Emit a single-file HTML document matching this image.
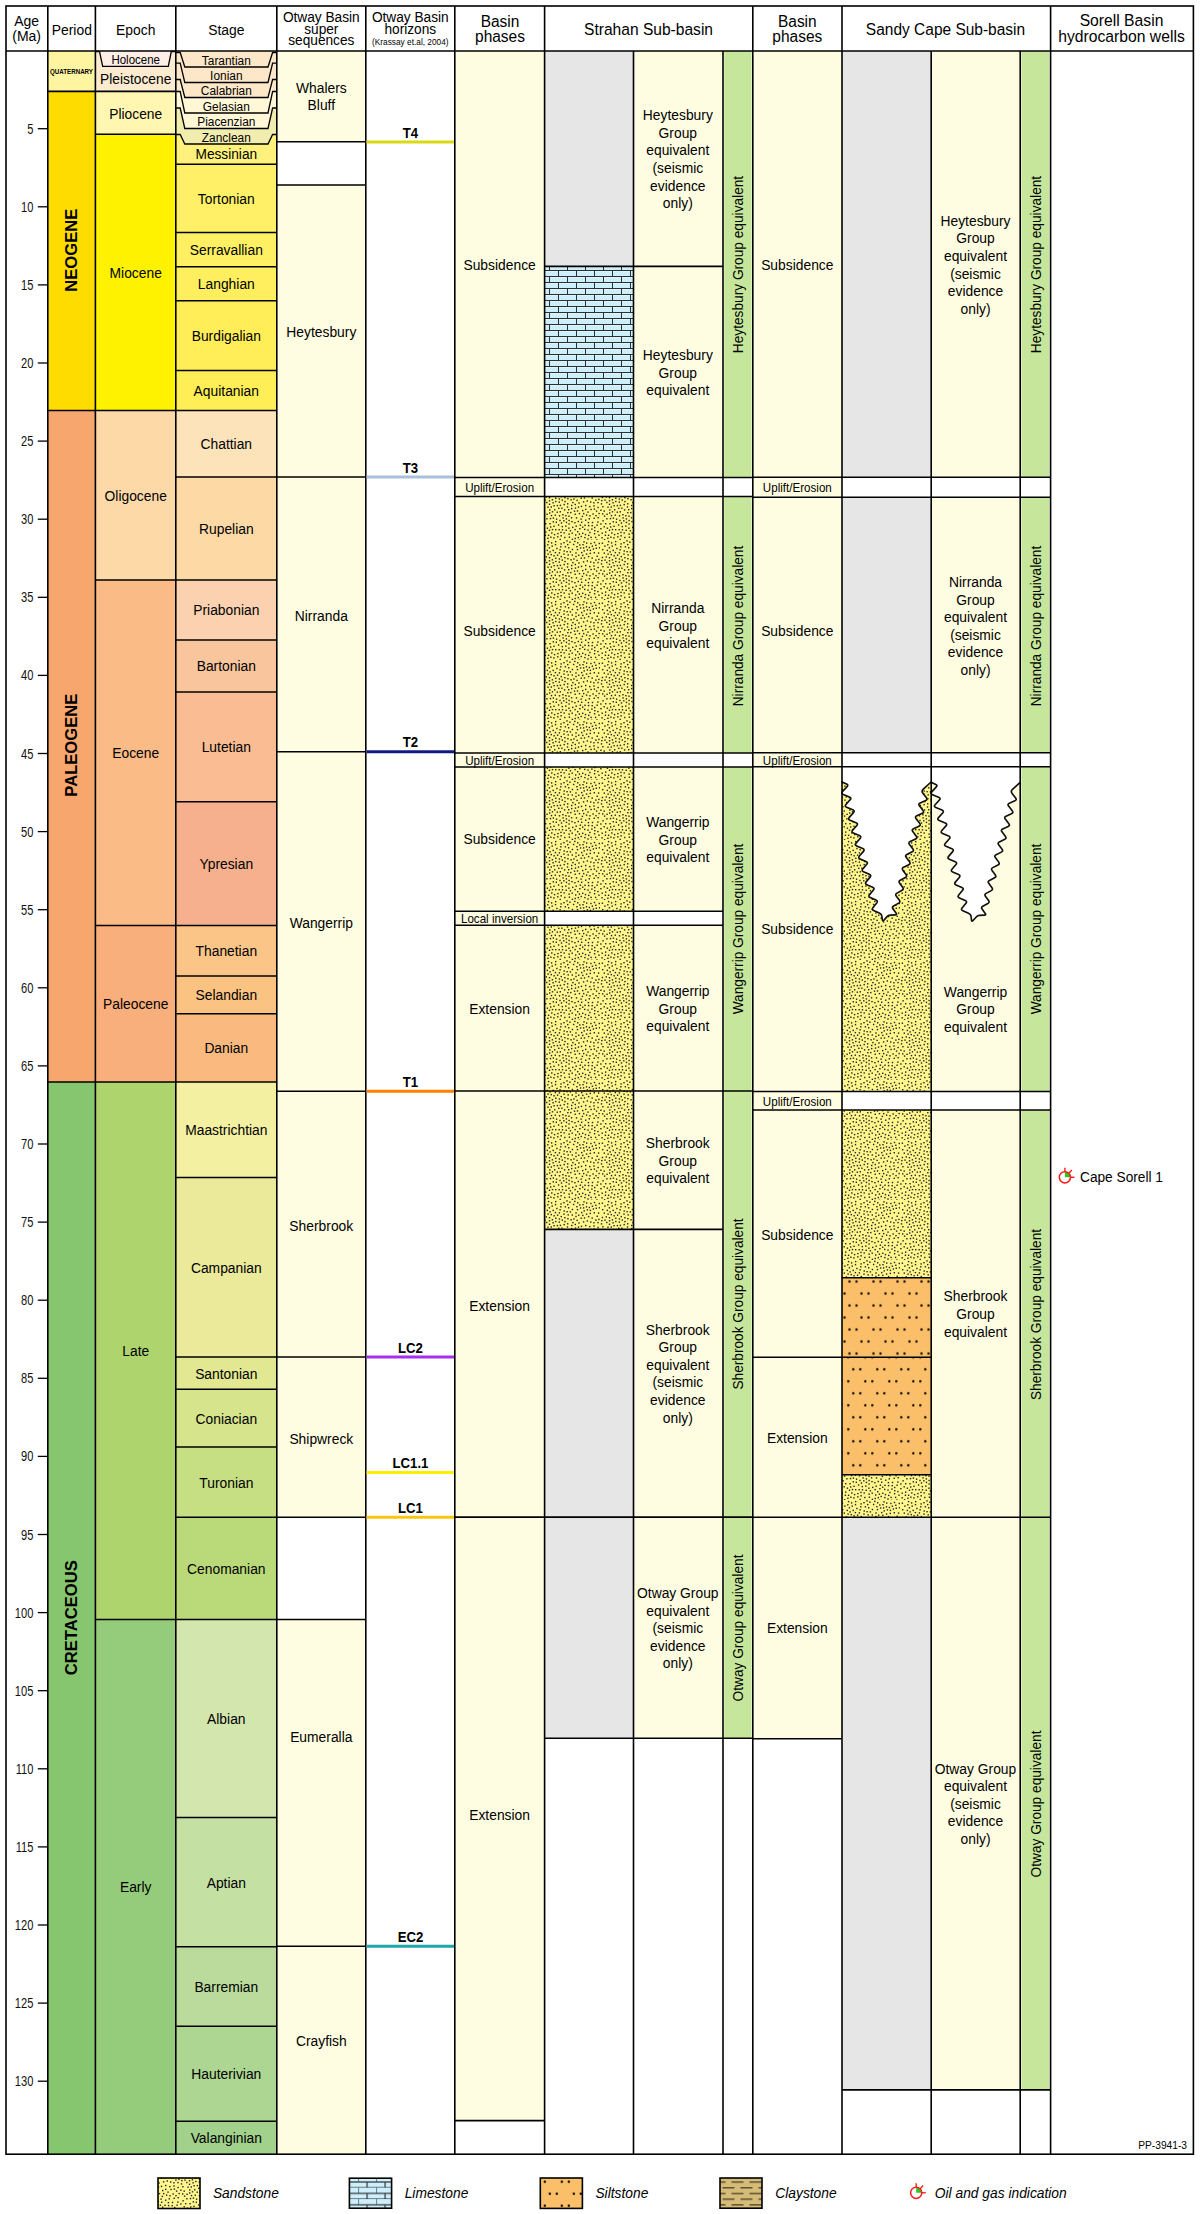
<!DOCTYPE html><html><head><meta charset="utf-8"><title>Stratigraphic chart</title><style>html,body{margin:0;padding:0;background:#fff;}svg{display:block;font-family:"Liberation Sans",sans-serif;}</style></head><body><svg width="1200" height="2214" viewBox="0 0 1200 2214" font-family='"Liberation Sans", sans-serif'><defs><pattern id="sand" patternUnits="userSpaceOnUse" x="0" y="0" width="60" height="60"><rect width="60" height="60" fill="#FFF68C"/><rect x="19.4" y="9.1" width="1.4" height="1.4" fill="#222"/><rect x="39.1" y="4.3" width="1.4" height="1.4" fill="#222"/><rect x="32.2" y="21.9" width="1.4" height="1.4" fill="#222"/><rect x="3.5" y="30.4" width="1.4" height="1.4" fill="#222"/><rect x="2.2" y="26.0" width="1.4" height="1.4" fill="#222"/><rect x="4.2" y="5.4" width="1.4" height="1.4" fill="#222"/><rect x="25.5" y="49.6" width="1.4" height="1.4" fill="#222"/><rect x="7.4" y="13.4" width="1.4" height="1.4" fill="#222"/><rect x="37.6" y="56.9" width="1.4" height="1.4" fill="#222"/><rect x="34.6" y="23.8" width="1.4" height="1.4" fill="#222"/><rect x="58.6" y="2.8" width="1.4" height="1.4" fill="#222"/><rect x="51.5" y="17.4" width="1.4" height="1.4" fill="#222"/><rect x="8.7" y="7.1" width="1.4" height="1.4" fill="#222"/><rect x="18.5" y="49.0" width="1.4" height="1.4" fill="#222"/><rect x="10.8" y="34.9" width="1.4" height="1.4" fill="#222"/><rect x="38.3" y="22.3" width="1.4" height="1.4" fill="#222"/><rect x="32.9" y="3.8" width="1.4" height="1.4" fill="#222"/><rect x="3.6" y="12.4" width="1.4" height="1.4" fill="#222"/><rect x="40.8" y="25.7" width="1.4" height="1.4" fill="#222"/><rect x="18.8" y="35.1" width="1.4" height="1.4" fill="#222"/><rect x="27.2" y="18.0" width="1.4" height="1.4" fill="#222"/><rect x="47.7" y="41.9" width="1.4" height="1.4" fill="#222"/><rect x="14.6" y="34.5" width="1.4" height="1.4" fill="#222"/><rect x="31.5" y="52.5" width="1.4" height="1.4" fill="#222"/><rect x="43.8" y="17.3" width="1.4" height="1.4" fill="#222"/><rect x="58.8" y="7.1" width="1.4" height="1.4" fill="#222"/><rect x="25.1" y="45.4" width="1.4" height="1.4" fill="#222"/><rect x="9.1" y="29.3" width="1.4" height="1.4" fill="#222"/><rect x="2.4" y="40.1" width="1.4" height="1.4" fill="#222"/><rect x="45.9" y="34.4" width="1.4" height="1.4" fill="#222"/><rect x="41.7" y="35.7" width="1.4" height="1.4" fill="#222"/><rect x="34.8" y="27.4" width="1.4" height="1.4" fill="#222"/><rect x="50.4" y="56.7" width="1.4" height="1.4" fill="#222"/><rect x="28.4" y="39.8" width="1.4" height="1.4" fill="#222"/><rect x="38.8" y="59.6" width="1.4" height="1.4" fill="#222"/><rect x="23.1" y="40.1" width="1.4" height="1.4" fill="#222"/><rect x="3.5" y="46.1" width="1.4" height="1.4" fill="#222"/><rect x="23.5" y="52.3" width="1.4" height="1.4" fill="#222"/><rect x="49.2" y="51.8" width="1.4" height="1.4" fill="#222"/><rect x="16.7" y="24.9" width="1.4" height="1.4" fill="#222"/><rect x="10.6" y="13.9" width="1.4" height="1.4" fill="#222"/><rect x="14.0" y="29.1" width="1.4" height="1.4" fill="#222"/><rect x="35.3" y="15.8" width="1.4" height="1.4" fill="#222"/><rect x="22.2" y="34.0" width="1.4" height="1.4" fill="#222"/><rect x="57.2" y="41.4" width="1.4" height="1.4" fill="#222"/><rect x="30.9" y="37.1" width="1.4" height="1.4" fill="#222"/><rect x="54.0" y="46.8" width="1.4" height="1.4" fill="#222"/><rect x="23.5" y="23.9" width="1.4" height="1.4" fill="#222"/><rect x="6.2" y="38.1" width="1.4" height="1.4" fill="#222"/><rect x="12.5" y="9.7" width="1.4" height="1.4" fill="#222"/><rect x="20.4" y="3.2" width="1.4" height="1.4" fill="#222"/><rect x="6.1" y="21.8" width="1.4" height="1.4" fill="#222"/><rect x="1.5" y="52.5" width="1.4" height="1.4" fill="#222"/><rect x="36.8" y="8.9" width="1.4" height="1.4" fill="#222"/><rect x="15.1" y="20.8" width="1.4" height="1.4" fill="#222"/><rect x="50.9" y="59.6" width="1.4" height="1.4" fill="#222"/><rect x="28.0" y="29.0" width="1.4" height="1.4" fill="#222"/><rect x="20.6" y="15.9" width="1.4" height="1.4" fill="#222"/><rect x="49.7" y="9.7" width="1.4" height="1.4" fill="#222"/><rect x="1.4" y="57.1" width="1.4" height="1.4" fill="#222"/><rect x="31.7" y="8.8" width="1.4" height="1.4" fill="#222"/><rect x="31.7" y="58.7" width="1.4" height="1.4" fill="#222"/><rect x="51.8" y="41.8" width="1.4" height="1.4" fill="#222"/><rect x="10.0" y="46.3" width="1.4" height="1.4" fill="#222"/><rect x="32.0" y="46.7" width="1.4" height="1.4" fill="#222"/><rect x="51.2" y="48.4" width="1.4" height="1.4" fill="#222"/><rect x="1.7" y="16.8" width="1.4" height="1.4" fill="#222"/><rect x="15.6" y="41.6" width="1.4" height="1.4" fill="#222"/><rect x="57.4" y="26.8" width="1.4" height="1.4" fill="#222"/><rect x="56.2" y="59.3" width="1.4" height="1.4" fill="#222"/><rect x="57.3" y="21.9" width="1.4" height="1.4" fill="#222"/><rect x="50.4" y="28.8" width="1.4" height="1.4" fill="#222"/><rect x="39.2" y="48.0" width="1.4" height="1.4" fill="#222"/><rect x="45.0" y="28.7" width="1.4" height="1.4" fill="#222"/><rect x="24.1" y="56.8" width="1.4" height="1.4" fill="#222"/><rect x="43.5" y="10.2" width="1.4" height="1.4" fill="#222"/><rect x="8.8" y="49.6" width="1.4" height="1.4" fill="#222"/><rect x="7.9" y="0.9" width="1.4" height="1.4" fill="#222"/><rect x="49.6" y="12.7" width="1.4" height="1.4" fill="#222"/><rect x="15.1" y="17.6" width="1.4" height="1.4" fill="#222"/><rect x="7.9" y="54.6" width="1.4" height="1.4" fill="#222"/><rect x="21.2" y="27.5" width="1.4" height="1.4" fill="#222"/><rect x="35.0" y="54.3" width="1.4" height="1.4" fill="#222"/><rect x="30.1" y="31.9" width="1.4" height="1.4" fill="#222"/><rect x="26.4" y="11.0" width="1.4" height="1.4" fill="#222"/><rect x="0.2" y="48.0" width="1.4" height="1.4" fill="#222"/><rect x="19.6" y="31.1" width="1.4" height="1.4" fill="#222"/><rect x="6.4" y="33.6" width="1.4" height="1.4" fill="#222"/><rect x="36.8" y="30.3" width="1.4" height="1.4" fill="#222"/><rect x="27.1" y="32.0" width="1.4" height="1.4" fill="#222"/><rect x="28.7" y="56.5" width="1.4" height="1.4" fill="#222"/><rect x="42.0" y="52.6" width="1.4" height="1.4" fill="#222"/><rect x="56.5" y="15.6" width="1.4" height="1.4" fill="#222"/><rect x="7.3" y="26.5" width="1.4" height="1.4" fill="#222"/><rect x="9.3" y="43.0" width="1.4" height="1.4" fill="#222"/><rect x="13.2" y="57.2" width="1.4" height="1.4" fill="#222"/><rect x="23.9" y="29.2" width="1.4" height="1.4" fill="#222"/><rect x="11.7" y="19.1" width="1.4" height="1.4" fill="#222"/><rect x="43.3" y="1.2" width="1.4" height="1.4" fill="#222"/><rect x="1.1" y="19.9" width="1.4" height="1.4" fill="#222"/><rect x="3.9" y="59.1" width="1.4" height="1.4" fill="#222"/><rect x="47.3" y="58.3" width="1.4" height="1.4" fill="#222"/><rect x="16.2" y="7.8" width="1.4" height="1.4" fill="#222"/><rect x="34.2" y="42.0" width="1.4" height="1.4" fill="#222"/><rect x="5.0" y="51.4" width="1.4" height="1.4" fill="#222"/><rect x="31.6" y="14.3" width="1.4" height="1.4" fill="#222"/><rect x="6.6" y="9.7" width="1.4" height="1.4" fill="#222"/><rect x="18.7" y="18.3" width="1.4" height="1.4" fill="#222"/><rect x="15.0" y="0.9" width="1.4" height="1.4" fill="#222"/><rect x="49.1" y="25.9" width="1.4" height="1.4" fill="#222"/><rect x="29.7" y="50.1" width="1.4" height="1.4" fill="#222"/><rect x="24.3" y="20.9" width="1.4" height="1.4" fill="#222"/><rect x="16.9" y="14.5" width="1.4" height="1.4" fill="#222"/><rect x="58.4" y="32.8" width="1.4" height="1.4" fill="#222"/><rect x="18.6" y="21.4" width="1.4" height="1.4" fill="#222"/><rect x="45.0" y="39.5" width="1.4" height="1.4" fill="#222"/><rect x="53.5" y="37.6" width="1.4" height="1.4" fill="#222"/><rect x="44.0" y="48.7" width="1.4" height="1.4" fill="#222"/><rect x="41.0" y="41.6" width="1.4" height="1.4" fill="#222"/><rect x="37.6" y="40.8" width="1.4" height="1.4" fill="#222"/><rect x="47.9" y="44.9" width="1.4" height="1.4" fill="#222"/><rect x="34.1" y="0.7" width="1.4" height="1.4" fill="#222"/><rect x="40.5" y="17.5" width="1.4" height="1.4" fill="#222"/><rect x="31.0" y="27.9" width="1.4" height="1.4" fill="#222"/><rect x="28.0" y="7.1" width="1.4" height="1.4" fill="#222"/><rect x="53.6" y="12.0" width="1.4" height="1.4" fill="#222"/><rect x="13.9" y="53.9" width="1.4" height="1.4" fill="#222"/><rect x="29.2" y="1.5" width="1.4" height="1.4" fill="#222"/><rect x="0.2" y="29.5" width="1.4" height="1.4" fill="#222"/><rect x="59.9" y="35.4" width="1.4" height="1.4" fill="#222"/><rect x="17.1" y="56.1" width="1.4" height="1.4" fill="#222"/><rect x="55.6" y="7.6" width="1.4" height="1.4" fill="#222"/><rect x="17.9" y="44.3" width="1.4" height="1.4" fill="#222"/><rect x="11.5" y="5.4" width="1.4" height="1.4" fill="#222"/><rect x="45.0" y="24.8" width="1.4" height="1.4" fill="#222"/><rect x="57.2" y="50.9" width="1.4" height="1.4" fill="#222"/><rect x="53.7" y="28.4" width="1.4" height="1.4" fill="#222"/><rect x="31.3" y="40.9" width="1.4" height="1.4" fill="#222"/><rect x="23.3" y="13.4" width="1.4" height="1.4" fill="#222"/><rect x="18.1" y="27.6" width="1.4" height="1.4" fill="#222"/><rect x="41.0" y="11.9" width="1.4" height="1.4" fill="#222"/><rect x="58.2" y="18.7" width="1.4" height="1.4" fill="#222"/><rect x="13.3" y="45.6" width="1.4" height="1.4" fill="#222"/><rect x="29.7" y="11.2" width="1.4" height="1.4" fill="#222"/><rect x="13.4" y="25.0" width="1.4" height="1.4" fill="#222"/><rect x="8.8" y="23.6" width="1.4" height="1.4" fill="#222"/><rect x="53.9" y="53.0" width="1.4" height="1.4" fill="#222"/><rect x="57.9" y="12.4" width="1.4" height="1.4" fill="#222"/><rect x="53.8" y="1.8" width="1.4" height="1.4" fill="#222"/><rect x="46.0" y="2.4" width="1.4" height="1.4" fill="#222"/><rect x="44.8" y="53.9" width="1.4" height="1.4" fill="#222"/><rect x="57.5" y="37.0" width="1.4" height="1.4" fill="#222"/><rect x="36.4" y="19.7" width="1.4" height="1.4" fill="#222"/><rect x="14.8" y="3.9" width="1.4" height="1.4" fill="#222"/><rect x="2.0" y="33.2" width="1.4" height="1.4" fill="#222"/><rect x="19.5" y="58.8" width="1.4" height="1.4" fill="#222"/><rect x="39.9" y="7.3" width="1.4" height="1.4" fill="#222"/><rect x="35.8" y="37.2" width="1.4" height="1.4" fill="#222"/><rect x="18.7" y="12.2" width="1.4" height="1.4" fill="#222"/><rect x="8.8" y="17.0" width="1.4" height="1.4" fill="#222"/><rect x="25.2" y="35.0" width="1.4" height="1.4" fill="#222"/><rect x="26.8" y="26.3" width="1.4" height="1.4" fill="#222"/><rect x="30.4" y="19.1" width="1.4" height="1.4" fill="#222"/><rect x="52.4" y="33.3" width="1.4" height="1.4" fill="#222"/><rect x="47.9" y="15.9" width="1.4" height="1.4" fill="#222"/><rect x="21.6" y="45.9" width="1.4" height="1.4" fill="#222"/><rect x="2.0" y="9.0" width="1.4" height="1.4" fill="#222"/><rect x="35.3" y="12.3" width="1.4" height="1.4" fill="#222"/><rect x="47.3" y="31.4" width="1.4" height="1.4" fill="#222"/><rect x="15.9" y="38.5" width="1.4" height="1.4" fill="#222"/><rect x="12.7" y="37.4" width="1.4" height="1.4" fill="#222"/><rect x="4.7" y="54.6" width="1.4" height="1.4" fill="#222"/><rect x="1.7" y="2.5" width="1.4" height="1.4" fill="#222"/><rect x="3.9" y="35.4" width="1.4" height="1.4" fill="#222"/><rect x="21.8" y="49.1" width="1.4" height="1.4" fill="#222"/><rect x="54.9" y="56.7" width="1.4" height="1.4" fill="#222"/><rect x="20.8" y="42.3" width="1.4" height="1.4" fill="#222"/><rect x="51.7" y="5.5" width="1.4" height="1.4" fill="#222"/><rect x="42.0" y="29.9" width="1.4" height="1.4" fill="#222"/><rect x="39.7" y="44.5" width="1.4" height="1.4" fill="#222"/><rect x="23.3" y="2.0" width="1.4" height="1.4" fill="#222"/><rect x="40.5" y="55.8" width="1.4" height="1.4" fill="#222"/><rect x="12.6" y="41.1" width="1.4" height="1.4" fill="#222"/><rect x="48.6" y="38.1" width="1.4" height="1.4" fill="#222"/><rect x="50.0" y="21.3" width="1.4" height="1.4" fill="#222"/><rect x="0.2" y="43.3" width="1.4" height="1.4" fill="#222"/><rect x="25.7" y="38.2" width="1.4" height="1.4" fill="#222"/><rect x="20.3" y="51.7" width="1.4" height="1.4" fill="#222"/><rect x="45.8" y="6.1" width="1.4" height="1.4" fill="#222"/><rect x="10.9" y="2.2" width="1.4" height="1.4" fill="#222"/><rect x="0.8" y="23.2" width="1.4" height="1.4" fill="#222"/><rect x="24.7" y="6.1" width="1.4" height="1.4" fill="#222"/><rect x="7.2" y="57.6" width="1.4" height="1.4" fill="#222"/><rect x="50.2" y="2.8" width="1.4" height="1.4" fill="#222"/><rect x="35.5" y="45.5" width="1.4" height="1.4" fill="#222"/><rect x="15.0" y="49.0" width="1.4" height="1.4" fill="#222"/><rect x="46.6" y="20.3" width="1.4" height="1.4" fill="#222"/><rect x="37.0" y="51.0" width="1.4" height="1.4" fill="#222"/><rect x="44.3" y="44.6" width="1.4" height="1.4" fill="#222"/><rect x="55.2" y="19.4" width="1.4" height="1.4" fill="#222"/><rect x="53.3" y="25.3" width="1.4" height="1.4" fill="#222"/><rect x="42.9" y="21.2" width="1.4" height="1.4" fill="#222"/><rect x="27.0" y="23.1" width="1.4" height="1.4" fill="#222"/><rect x="5.6" y="16.2" width="1.4" height="1.4" fill="#222"/><rect x="19.3" y="39.8" width="1.4" height="1.4" fill="#222"/><rect x="6.7" y="47.5" width="1.4" height="1.4" fill="#222"/><rect x="5.0" y="43.0" width="1.4" height="1.4" fill="#222"/><rect x="58.3" y="54.5" width="1.4" height="1.4" fill="#222"/><rect x="23.5" y="10.3" width="1.4" height="1.4" fill="#222"/><rect x="44.2" y="56.9" width="1.4" height="1.4" fill="#222"/><rect x="36.2" y="6.0" width="1.4" height="1.4" fill="#222"/><rect x="55.3" y="35.0" width="1.4" height="1.4" fill="#222"/><rect x="13.4" y="15.1" width="1.4" height="1.4" fill="#222"/><rect x="20.4" y="55.1" width="1.4" height="1.4" fill="#222"/><rect x="38.8" y="32.9" width="1.4" height="1.4" fill="#222"/><rect x="28.4" y="43.3" width="1.4" height="1.4" fill="#222"/><rect x="28.4" y="53.4" width="1.4" height="1.4" fill="#222"/><rect x="10.2" y="56.5" width="1.4" height="1.4" fill="#222"/><rect x="27.5" y="14.2" width="1.4" height="1.4" fill="#222"/><rect x="56.4" y="44.5" width="1.4" height="1.4" fill="#222"/><rect x="11.1" y="52.3" width="1.4" height="1.4" fill="#222"/><rect x="24.2" y="17.0" width="1.4" height="1.4" fill="#222"/><rect x="9.8" y="37.9" width="1.4" height="1.4" fill="#222"/><rect x="33.8" y="30.5" width="1.4" height="1.4" fill="#222"/><rect x="4.3" y="19.4" width="1.4" height="1.4" fill="#222"/><rect x="47.3" y="49.4" width="1.4" height="1.4" fill="#222"/><rect x="10.6" y="26.3" width="1.4" height="1.4" fill="#222"/><rect x="45.9" y="13.4" width="1.4" height="1.4" fill="#222"/><rect x="7.1" y="4.1" width="1.4" height="1.4" fill="#222"/><rect x="38.0" y="14.5" width="1.4" height="1.4" fill="#222"/><rect x="52.7" y="8.3" width="1.4" height="1.4" fill="#222"/><rect x="14.7" y="11.9" width="1.4" height="1.4" fill="#222"/><rect x="53.2" y="22.1" width="1.4" height="1.4" fill="#222"/><rect x="34.5" y="33.6" width="1.4" height="1.4" fill="#222"/><rect x="20.1" y="6.1" width="1.4" height="1.4" fill="#222"/><rect x="26.3" y="0.2" width="1.4" height="1.4" fill="#222"/><rect x="11.8" y="31.1" width="1.4" height="1.4" fill="#222"/><rect x="34.4" y="48.9" width="1.4" height="1.4" fill="#222"/><rect x="49.3" y="35.1" width="1.4" height="1.4" fill="#222"/><rect x="40.4" y="38.4" width="1.4" height="1.4" fill="#222"/><rect x="46.7" y="9.2" width="1.4" height="1.4" fill="#222"/><rect x="21.6" y="19.4" width="1.4" height="1.4" fill="#222"/><rect x="59.4" y="59.9" width="1.4" height="1.4" fill="#222"/><rect x="12.4" y="22.1" width="1.4" height="1.4" fill="#222"/><rect x="34.5" y="57.8" width="1.4" height="1.4" fill="#222"/><rect x="43.0" y="32.9" width="1.4" height="1.4" fill="#222"/><rect x="37.8" y="26.4" width="1.4" height="1.4" fill="#222"/><rect x="16.6" y="31.5" width="1.4" height="1.4" fill="#222"/><rect x="28.2" y="47.5" width="1.4" height="1.4" fill="#222"/><rect x="17.2" y="52.9" width="1.4" height="1.4" fill="#222"/><rect x="42.3" y="4.0" width="1.4" height="1.4" fill="#222"/><rect x="54.1" y="50.0" width="1.4" height="1.4" fill="#222"/><rect x="33.2" y="18.3" width="1.4" height="1.4" fill="#222"/><rect x="55.9" y="30.4" width="1.4" height="1.4" fill="#222"/><rect x="22.4" y="37.2" width="1.4" height="1.4" fill="#222"/><rect x="55.1" y="4.6" width="1.4" height="1.4" fill="#222"/><rect x="9.0" y="32.3" width="1.4" height="1.4" fill="#222"/><rect x="28.3" y="35.5" width="1.4" height="1.4" fill="#222"/><rect x="42.0" y="46.5" width="1.4" height="1.4" fill="#222"/><rect x="51.5" y="45.0" width="1.4" height="1.4" fill="#222"/><rect x="31.0" y="24.8" width="1.4" height="1.4" fill="#222"/><rect x="48.7" y="6.8" width="1.4" height="1.4" fill="#222"/><rect x="48.0" y="54.7" width="1.4" height="1.4" fill="#222"/><rect x="19.7" y="24.7" width="1.4" height="1.4" fill="#222"/><rect x="27.0" y="3.9" width="1.4" height="1.4" fill="#222"/><rect x="37.0" y="2.1" width="1.4" height="1.4" fill="#222"/><rect x="42.9" y="7.2" width="1.4" height="1.4" fill="#222"/><rect x="25.8" y="41.7" width="1.4" height="1.4" fill="#222"/><rect x="8.8" y="20.1" width="1.4" height="1.4" fill="#222"/><rect x="11.8" y="48.9" width="1.4" height="1.4" fill="#222"/><rect x="42.1" y="14.7" width="1.4" height="1.4" fill="#222"/><rect x="9.4" y="11.2" width="1.4" height="1.4" fill="#222"/><rect x="38.7" y="53.4" width="1.4" height="1.4" fill="#222"/></pattern><pattern id="lime" patternUnits="userSpaceOnUse" x="549" y="264" width="18" height="12"><rect width="18" height="12" fill="#CDEFFB"/><rect x="0" y="0" width="18" height="1" fill="#2e2e2e"/><rect x="0" y="6" width="18" height="1" fill="#2e2e2e"/><rect x="0" y="0" width="1" height="6" fill="#2e2e2e"/><rect x="9" y="6" width="1" height="6" fill="#2e2e2e"/><rect x="1" y="1" width="8" height="0.6" fill="#fff" opacity="0.6"/><rect x="10" y="1" width="8" height="0.6" fill="#fff" opacity="0.6"/><rect x="0" y="7" width="9" height="0.6" fill="#fff" opacity="0.6"/><rect x="10" y="7" width="8" height="0.6" fill="#fff" opacity="0.6"/></pattern><pattern id="silt1" patternUnits="userSpaceOnUse" x="846.5" y="1275.5" width="24" height="24"><rect width="24" height="24" fill="#FBBF69"/><circle cx="3" cy="6" r="1.2" fill="#000"/><circle cx="10" cy="6" r="1.2" fill="#000"/><circle cx="15" cy="18" r="1.2" fill="#000"/><circle cx="22" cy="18" r="1.2" fill="#000"/></pattern><pattern id="silt2" patternUnits="userSpaceOnUse" x="850.3" y="1363.3" width="24" height="24"><rect width="24" height="24" fill="#FBBF69"/><circle cx="3" cy="6" r="1.2" fill="#000"/><circle cx="10" cy="6" r="1.2" fill="#000"/><circle cx="15" cy="18" r="1.2" fill="#000"/><circle cx="22" cy="18" r="1.2" fill="#000"/></pattern><pattern id="silt3" patternUnits="userSpaceOnUse" x="558.8" y="2175.7" width="24" height="24"><rect width="24" height="24" fill="#FBBF69"/><circle cx="3" cy="6" r="1.2" fill="#000"/><circle cx="10" cy="6" r="1.2" fill="#000"/><circle cx="15" cy="18" r="1.2" fill="#000"/><circle cx="22" cy="18" r="1.2" fill="#000"/></pattern><pattern id="lime2" patternUnits="userSpaceOnUse" x="358.1" y="2176.3" width="18" height="11.4"><rect width="18" height="11.4" fill="#CDEFFB"/><rect x="0" y="5.1" width="18" height="1.2" fill="#333"/><rect x="0" y="10.8" width="18" height="1.2" fill="#333"/><rect x="-0.6" y="0" width="1.2" height="5.7" fill="#333"/><rect x="8.4" y="5.7" width="1.2" height="5.7" fill="#333"/></pattern><pattern id="clay" patternUnits="userSpaceOnUse" x="731.5" y="2181.3" width="18" height="11.4"><rect width="18" height="11.4" fill="#D5BB78"/><rect x="0" y="0" width="12" height="1.5" fill="#5e5230"/><rect x="9" y="5.7" width="12" height="1.5" fill="#5e5230"/><rect x="-9" y="5.7" width="12" height="1.5" fill="#5e5230"/></pattern></defs><rect x="0" y="0" width="1200" height="2214" fill="#fff"/>
<rect x="47.80" y="51.00" width="47.60" height="40.40" fill="#FFF5A0"/>
<rect x="47.80" y="91.40" width="47.60" height="319.10" fill="#FFDC00"/>
<rect x="47.80" y="410.50" width="47.60" height="671.50" fill="#F7A66E"/>
<rect x="47.80" y="1082.00" width="47.60" height="1072.20" fill="#86C66F"/>
<rect x="95.40" y="51.00" width="80.40" height="40.40" fill="#FDEBD0"/>
<rect x="95.40" y="91.40" width="80.40" height="42.90" fill="#FFF6B2"/>
<rect x="95.40" y="134.30" width="80.40" height="276.20" fill="#FFF200"/>
<rect x="95.40" y="410.50" width="80.40" height="169.50" fill="#FDD9A8"/>
<rect x="95.40" y="580.00" width="80.40" height="345.50" fill="#FABB86"/>
<rect x="95.40" y="925.50" width="80.40" height="156.50" fill="#F8AF7B"/>
<rect x="95.40" y="1082.00" width="80.40" height="537.50" fill="#AED46E"/>
<rect x="95.40" y="1619.50" width="80.40" height="534.70" fill="#94CC7B"/>
<rect x="175.80" y="164.25" width="101.00" height="68.25" fill="#FFF068"/>
<rect x="175.80" y="232.50" width="101.00" height="34.25" fill="#FFF063"/>
<rect x="175.80" y="266.75" width="101.00" height="34.00" fill="#FFEF5E"/>
<rect x="175.80" y="300.75" width="101.00" height="69.75" fill="#FFEE58"/>
<rect x="175.80" y="370.50" width="101.00" height="40.00" fill="#FFEE55"/>
<rect x="175.80" y="410.50" width="101.00" height="66.50" fill="#FDE3BA"/>
<rect x="175.80" y="477.00" width="101.00" height="103.00" fill="#FDD9A6"/>
<rect x="175.80" y="580.00" width="101.00" height="60.00" fill="#FBD1AF"/>
<rect x="175.80" y="640.00" width="101.00" height="52.00" fill="#F9C59C"/>
<rect x="175.80" y="692.00" width="101.00" height="109.75" fill="#F9BC93"/>
<rect x="175.80" y="801.75" width="101.00" height="123.75" fill="#F6B08D"/>
<rect x="175.80" y="925.50" width="101.00" height="50.50" fill="#FBC588"/>
<rect x="175.80" y="976.00" width="101.00" height="37.75" fill="#FBC382"/>
<rect x="175.80" y="1013.75" width="101.00" height="68.25" fill="#FABA7F"/>
<rect x="175.80" y="1082.00" width="101.00" height="95.50" fill="#F4F0A2"/>
<rect x="175.80" y="1177.50" width="101.00" height="179.50" fill="#EAEA9A"/>
<rect x="175.80" y="1357.00" width="101.00" height="32.25" fill="#E1E891"/>
<rect x="175.80" y="1389.25" width="101.00" height="57.75" fill="#D6E48B"/>
<rect x="175.80" y="1447.00" width="101.00" height="70.25" fill="#C7DF83"/>
<rect x="175.80" y="1517.25" width="101.00" height="102.25" fill="#BAD978"/>
<rect x="175.80" y="1619.50" width="101.00" height="198.00" fill="#D3E6AE"/>
<rect x="175.80" y="1817.50" width="101.00" height="129.25" fill="#C5E0A3"/>
<rect x="175.80" y="1946.75" width="101.00" height="79.50" fill="#BADB9B"/>
<rect x="175.80" y="2026.25" width="101.00" height="95.00" fill="#ACD691"/>
<rect x="175.80" y="2121.25" width="101.00" height="32.95" fill="#A1D18B"/>
<rect x="175.80" y="51.00" width="101.00" height="40.50" fill="#FCE7C8"/>
<rect x="175.80" y="91.50" width="101.00" height="16.50" fill="#FFF7D6"/>
<rect x="175.80" y="108.00" width="101.00" height="26.50" fill="#F1EDAE"/>
<rect x="175.80" y="134.50" width="101.00" height="29.75" fill="#FFF17C"/>
<polygon points="180.2,51 184.8,51 268.0,51 272.6,51" fill="none"/>
<polygon points="180.2,52.5 184.8,67 268.0,67 272.6,52.5" fill="none"/>
<polygon points="180.2,63.2 184.8,82.5 268.0,82.5 272.6,63.2" fill="none"/>
<polygon points="180.2,79.5 184.8,97.5 268.0,97.5 272.6,79.5" fill="none"/>
<polygon points="180.2,91.5 184.8,113 268.0,113 272.6,91.5" fill="none"/>
<polygon points="180.2,108 184.8,128.5 268.0,128.5 272.6,108" fill="none"/>
<polygon points="180.20,51.00 184.80,51.00 268.00,51.00 272.60,51.00 272.60,52.50 268.00,67.00 184.80,67.00 180.20,52.50" fill="#FCE7C8"/>
<polygon points="180.20,52.50 184.80,67.00 268.00,67.00 272.60,52.50 272.60,63.20 268.00,82.50 184.80,82.50 180.20,63.20" fill="#FCE7C8"/>
<polygon points="180.20,63.20 184.80,82.50 268.00,82.50 272.60,63.20 272.60,79.50 268.00,97.50 184.80,97.50 180.20,79.50" fill="#FCE7C8"/>
<polygon points="180.20,79.50 184.80,97.50 268.00,97.50 272.60,79.50 272.60,91.50 268.00,113.00 184.80,113.00 180.20,91.50" fill="#FFF7D6"/>
<polygon points="180.20,91.50 184.80,113.00 268.00,113.00 272.60,91.50 272.60,108.00 268.00,128.50 184.80,128.50 180.20,108.00" fill="#FFF7D6"/>
<polygon points="180.20,108.00 184.80,128.50 268.00,128.50 272.60,108.00 272.60,134.50 268.00,144.00 184.80,144.00 180.20,134.50" fill="#F1EDAE"/>
<polygon points="184.8,144 268.0,144 272.6,134.5 276.8,134.5 276.8,164.25 175.8,164.25 175.8,134.5 180.2,134.5" fill="#FFF17C"/>
<polyline points="175.80,52.50 180.20,52.50 184.80,67.00 268.00,67.00 272.60,52.50 276.80,52.50" fill="none" stroke="#000" stroke-width="1.3" stroke-linejoin="miter"/>
<polyline points="175.80,63.20 180.20,63.20 184.80,82.50 268.00,82.50 272.60,63.20 276.80,63.20" fill="none" stroke="#000" stroke-width="1.3" stroke-linejoin="miter"/>
<polyline points="175.80,79.50 180.20,79.50 184.80,97.50 268.00,97.50 272.60,79.50 276.80,79.50" fill="none" stroke="#000" stroke-width="1.3" stroke-linejoin="miter"/>
<polyline points="175.80,91.50 180.20,91.50 184.80,113.00 268.00,113.00 272.60,91.50 276.80,91.50" fill="none" stroke="#000" stroke-width="1.3" stroke-linejoin="miter"/>
<polyline points="175.80,108.00 180.20,108.00 184.80,128.50 268.00,128.50 272.60,108.00 276.80,108.00" fill="none" stroke="#000" stroke-width="1.3" stroke-linejoin="miter"/>
<polyline points="175.80,134.50 180.20,134.50 184.80,144.00 268.00,144.00 272.60,134.50 276.80,134.50" fill="none" stroke="#000" stroke-width="1.3" stroke-linejoin="miter"/>
<polygon points="95.4,51 99.5,51 102.7,66.4 168.3,66.4 171.3,51 175.8,51" fill="#FDEEE6"/>
<polyline points="95.4,51.5 99.5,51.5 102.7,66.4 168.3,66.4 171.3,51.5 175.8,51.5" fill="none" stroke="#000" stroke-width="1.3"/>
<rect x="276.80" y="51.00" width="89.00" height="90.70" fill="#FFFDE1"/>
<rect x="276.80" y="141.70" width="89.00" height="43.30" fill="#fff"/>
<rect x="276.80" y="185.00" width="89.00" height="292.00" fill="#FFFDE1"/>
<rect x="276.80" y="477.00" width="89.00" height="274.75" fill="#FFFDE1"/>
<rect x="276.80" y="751.75" width="89.00" height="339.50" fill="#FFFDE1"/>
<rect x="276.80" y="1091.25" width="89.00" height="265.75" fill="#FFFDE1"/>
<rect x="276.80" y="1357.00" width="89.00" height="160.20" fill="#FFFDE1"/>
<rect x="276.80" y="1517.20" width="89.00" height="102.30" fill="#fff"/>
<rect x="276.80" y="1619.50" width="89.00" height="326.70" fill="#FFFDE1"/>
<rect x="276.80" y="1946.20" width="89.00" height="208.00" fill="#FFFDE1"/>
<rect x="454.80" y="51.00" width="89.80" height="426.50" fill="#FFFDE1"/>
<rect x="454.80" y="477.50" width="89.80" height="19.00" fill="#FFFDE1"/>
<rect x="454.80" y="496.50" width="89.80" height="256.50" fill="#FFFDE1"/>
<rect x="454.80" y="753.00" width="89.80" height="14.00" fill="#FFFDE1"/>
<rect x="454.80" y="767.00" width="89.80" height="144.30" fill="#FFFDE1"/>
<rect x="454.80" y="911.30" width="89.80" height="14.00" fill="#FFFDE1"/>
<rect x="454.80" y="925.30" width="89.80" height="165.70" fill="#FFFDE1"/>
<rect x="454.80" y="1091.00" width="89.80" height="426.10" fill="#FFFDE1"/>
<rect x="454.80" y="1517.10" width="89.80" height="603.50" fill="#FFFDE1"/>
<rect x="454.80" y="2120.60" width="89.80" height="33.60" fill="#fff"/>
<rect x="544.60" y="51.00" width="88.90" height="215.25" fill="#E6E6E6"/>
<rect x="544.60" y="266.25" width="88.90" height="211.25" fill="url(#lime)"/>
<rect x="544.60" y="477.50" width="88.90" height="19.20" fill="#fff"/>
<rect x="544.60" y="496.70" width="88.90" height="256.30" fill="url(#sand)"/>
<rect x="544.60" y="753.00" width="88.90" height="14.00" fill="#fff"/>
<rect x="544.60" y="767.00" width="88.90" height="144.30" fill="url(#sand)"/>
<rect x="544.60" y="911.30" width="88.90" height="14.00" fill="#fff"/>
<rect x="544.60" y="925.30" width="88.90" height="304.10" fill="url(#sand)"/>
<rect x="544.60" y="1229.40" width="88.90" height="508.80" fill="#E6E6E6"/>
<rect x="544.60" y="1738.20" width="88.90" height="416.00" fill="#fff"/>
<rect x="633.50" y="51.00" width="89.50" height="426.50" fill="#FFFDE1"/>
<rect x="633.50" y="477.50" width="89.50" height="19.00" fill="#fff"/>
<rect x="633.50" y="496.50" width="89.50" height="256.50" fill="#FFFDE1"/>
<rect x="633.50" y="753.00" width="89.50" height="14.00" fill="#fff"/>
<rect x="633.50" y="767.00" width="89.50" height="144.30" fill="#FFFDE1"/>
<rect x="633.50" y="911.30" width="89.50" height="14.00" fill="#fff"/>
<rect x="633.50" y="925.30" width="89.50" height="812.90" fill="#FFFDE1"/>
<rect x="633.50" y="1738.20" width="89.50" height="416.00" fill="#fff"/>
<rect x="724.20" y="51.00" width="27.40" height="426.50" fill="#C6E69B"/>
<rect x="724.20" y="496.50" width="27.40" height="256.50" fill="#C6E69B"/>
<rect x="724.20" y="767.00" width="27.40" height="971.20" fill="#C6E69B"/>
<rect x="752.80" y="51.00" width="89.20" height="426.30" fill="#FFFDE1"/>
<rect x="752.80" y="477.30" width="89.20" height="20.00" fill="#FFFDE1"/>
<rect x="752.80" y="497.30" width="89.20" height="255.50" fill="#FFFDE1"/>
<rect x="752.80" y="752.80" width="89.20" height="13.90" fill="#FFFDE1"/>
<rect x="752.80" y="766.70" width="89.20" height="324.80" fill="#FFFDE1"/>
<rect x="752.80" y="1091.50" width="89.20" height="18.50" fill="#FFFDE1"/>
<rect x="752.80" y="1110.00" width="89.20" height="247.30" fill="#FFFDE1"/>
<rect x="752.80" y="1357.30" width="89.20" height="160.00" fill="#FFFDE1"/>
<rect x="752.80" y="1517.30" width="89.20" height="221.40" fill="#FFFDE1"/>
<rect x="752.80" y="1738.70" width="89.20" height="415.50" fill="#fff"/>
<rect x="842.00" y="51.00" width="89.20" height="426.30" fill="#E6E6E6"/>
<rect x="842.00" y="477.30" width="89.20" height="20.00" fill="#fff"/>
<rect x="842.00" y="497.30" width="89.20" height="255.50" fill="#E6E6E6"/>
<rect x="842.00" y="752.80" width="89.20" height="13.90" fill="#fff"/>
<rect x="842.00" y="766.70" width="89.20" height="324.80" fill="url(#sand)"/>
<rect x="842.00" y="1091.50" width="89.20" height="18.50" fill="#fff"/>
<rect x="842.00" y="1110.00" width="89.20" height="167.80" fill="url(#sand)"/>
<rect x="842.00" y="1277.80" width="89.20" height="79.50" fill="url(#silt1)"/>
<rect x="842.00" y="1357.30" width="89.20" height="117.40" fill="url(#silt2)"/>
<rect x="842.00" y="1474.70" width="89.20" height="42.60" fill="url(#sand)"/>
<rect x="842.00" y="1517.30" width="89.20" height="572.60" fill="#E6E6E6"/>
<rect x="842.00" y="2089.90" width="89.20" height="64.30" fill="#fff"/>
<rect x="931.20" y="51.00" width="89.00" height="426.30" fill="#FFFDE1"/>
<rect x="931.20" y="477.30" width="89.00" height="20.00" fill="#fff"/>
<rect x="931.20" y="497.30" width="89.00" height="255.50" fill="#FFFDE1"/>
<rect x="931.20" y="752.80" width="89.00" height="13.90" fill="#fff"/>
<rect x="931.20" y="766.70" width="89.00" height="324.80" fill="#FFFDE1"/>
<rect x="931.20" y="1091.50" width="89.00" height="18.50" fill="#fff"/>
<rect x="931.20" y="1110.00" width="89.00" height="979.90" fill="#FFFDE1"/>
<rect x="931.20" y="2089.90" width="89.00" height="64.30" fill="#fff"/>
<rect x="1021.40" y="51.00" width="28.00" height="426.30" fill="#C6E69B"/>
<rect x="1021.40" y="497.30" width="28.00" height="255.50" fill="#C6E69B"/>
<rect x="1021.40" y="766.70" width="28.00" height="324.80" fill="#C6E69B"/>
<rect x="1021.40" y="1110.00" width="28.00" height="979.90" fill="#C6E69B"/>
<path d="M842.00,782.00 L847.10,784.34 Q848.53,785.00 846.85,786.85 L842.56,791.55 Q840.87,793.40 843.28,794.39 L849.42,796.91 Q851.83,797.90 850.17,799.75 L845.93,804.45 Q844.26,806.30 846.65,807.29 L852.74,809.81 Q855.13,810.80 853.49,812.65 L849.30,817.35 Q847.65,819.20 850.02,820.19 L856.06,822.71 Q858.43,823.70 856.81,825.55 L852.67,830.25 Q851.04,832.10 853.39,833.09 L859.38,835.61 Q861.73,836.60 860.13,838.45 L856.04,843.15 Q854.43,845.00 856.76,845.99 L862.70,848.51 Q865.03,849.50 863.45,851.35 L859.41,856.05 Q857.82,857.90 860.14,858.89 L866.02,861.41 Q868.33,862.40 866.77,864.25 L862.78,868.95 Q861.21,870.80 863.51,871.79 L869.34,874.31 Q871.63,875.30 870.09,877.15 L866.15,881.85 Q864.61,883.70 866.88,884.69 L872.66,887.21 Q874.93,888.20 873.41,890.05 L869.52,894.75 Q868.00,896.60 870.25,897.59 L875.98,900.11 Q878.23,901.10 876.73,902.95 L872.89,907.65 Q871.39,909.50 873.62,910.49 L879.30,913.01 Q881.53,914.00 881.77,915.69 L882.37,920.01 Q882.60,921.70 883.85,920.27 L887.05,916.63 Q888.30,915.20 890.27,915.11 L895.29,914.89 Q897.26,914.80 896.02,913.11 L892.87,908.79 Q891.64,907.10 893.62,905.98 L898.67,903.12 Q900.66,902.00 899.40,900.28 L896.19,895.92 Q894.93,894.20 896.94,893.10 L902.05,890.30 Q904.06,889.20 902.77,887.46 L899.50,883.04 Q898.22,881.30 900.25,880.22 L905.43,877.48 Q907.46,876.40 906.15,874.64 L902.82,870.16 Q901.51,868.40 903.57,867.34 L908.81,864.66 Q910.86,863.60 909.53,861.82 L906.13,857.28 Q904.80,855.50 906.88,854.47 L912.18,851.83 Q914.27,850.80 912.91,849.00 L909.45,844.40 Q908.09,842.60 910.20,841.59 L915.56,839.01 Q917.67,838.00 916.28,836.17 L912.76,831.53 Q911.38,829.70 913.51,828.71 L918.94,826.19 Q921.07,825.20 919.66,823.35 L916.08,818.65 Q914.67,816.80 916.83,815.83 L922.32,813.37 Q924.47,812.40 923.04,810.53 L919.39,805.77 Q917.96,803.90 920.14,802.95 L925.69,800.55 Q927.87,799.60 926.42,797.71 L922.71,792.89 Q921.25,791.00 923.29,789.13 L930.50,782.50 L931.2,766.7 L842,766.7 Z" fill="#fff"/>
<path d="M842.00,782.00 L847.10,784.34 Q848.53,785.00 846.85,786.85 L842.56,791.55 Q840.87,793.40 843.28,794.39 L849.42,796.91 Q851.83,797.90 850.17,799.75 L845.93,804.45 Q844.26,806.30 846.65,807.29 L852.74,809.81 Q855.13,810.80 853.49,812.65 L849.30,817.35 Q847.65,819.20 850.02,820.19 L856.06,822.71 Q858.43,823.70 856.81,825.55 L852.67,830.25 Q851.04,832.10 853.39,833.09 L859.38,835.61 Q861.73,836.60 860.13,838.45 L856.04,843.15 Q854.43,845.00 856.76,845.99 L862.70,848.51 Q865.03,849.50 863.45,851.35 L859.41,856.05 Q857.82,857.90 860.14,858.89 L866.02,861.41 Q868.33,862.40 866.77,864.25 L862.78,868.95 Q861.21,870.80 863.51,871.79 L869.34,874.31 Q871.63,875.30 870.09,877.15 L866.15,881.85 Q864.61,883.70 866.88,884.69 L872.66,887.21 Q874.93,888.20 873.41,890.05 L869.52,894.75 Q868.00,896.60 870.25,897.59 L875.98,900.11 Q878.23,901.10 876.73,902.95 L872.89,907.65 Q871.39,909.50 873.62,910.49 L879.30,913.01 Q881.53,914.00 881.77,915.69 L882.37,920.01 Q882.60,921.70 883.85,920.27 L887.05,916.63 Q888.30,915.20 890.27,915.11 L895.29,914.89 Q897.26,914.80 896.02,913.11 L892.87,908.79 Q891.64,907.10 893.62,905.98 L898.67,903.12 Q900.66,902.00 899.40,900.28 L896.19,895.92 Q894.93,894.20 896.94,893.10 L902.05,890.30 Q904.06,889.20 902.77,887.46 L899.50,883.04 Q898.22,881.30 900.25,880.22 L905.43,877.48 Q907.46,876.40 906.15,874.64 L902.82,870.16 Q901.51,868.40 903.57,867.34 L908.81,864.66 Q910.86,863.60 909.53,861.82 L906.13,857.28 Q904.80,855.50 906.88,854.47 L912.18,851.83 Q914.27,850.80 912.91,849.00 L909.45,844.40 Q908.09,842.60 910.20,841.59 L915.56,839.01 Q917.67,838.00 916.28,836.17 L912.76,831.53 Q911.38,829.70 913.51,828.71 L918.94,826.19 Q921.07,825.20 919.66,823.35 L916.08,818.65 Q914.67,816.80 916.83,815.83 L922.32,813.37 Q924.47,812.40 923.04,810.53 L919.39,805.77 Q917.96,803.90 920.14,802.95 L925.69,800.55 Q927.87,799.60 926.42,797.71 L922.71,792.89 Q921.25,791.00 923.29,789.13 L930.50,782.50" fill="none" stroke="#111" stroke-width="1.65" stroke-linejoin="round" stroke-linecap="round"/>
<path d="M931.20,782.30 L936.30,784.64 Q937.73,785.30 936.05,787.15 L931.76,791.85 Q930.07,793.70 932.48,794.69 L938.62,797.21 Q941.03,798.20 939.37,800.05 L935.13,804.75 Q933.46,806.60 935.85,807.59 L941.94,810.11 Q944.33,811.10 942.69,812.95 L938.50,817.65 Q936.85,819.50 939.22,820.49 L945.26,823.01 Q947.63,824.00 946.01,825.85 L941.87,830.55 Q940.24,832.40 942.59,833.39 L948.58,835.91 Q950.93,836.90 949.33,838.75 L945.24,843.45 Q943.63,845.30 945.96,846.29 L951.90,848.81 Q954.23,849.80 952.65,851.65 L948.61,856.35 Q947.02,858.20 949.34,859.19 L955.22,861.71 Q957.53,862.70 955.97,864.55 L951.98,869.25 Q950.41,871.10 952.71,872.09 L958.54,874.61 Q960.83,875.60 959.29,877.45 L955.35,882.15 Q953.81,884.00 956.08,884.99 L961.86,887.51 Q964.13,888.50 962.61,890.35 L958.72,895.05 Q957.20,896.90 959.45,897.89 L965.18,900.41 Q967.43,901.40 965.93,903.25 L962.09,907.95 Q960.59,909.80 962.82,910.79 L968.50,913.31 Q970.73,914.30 970.97,915.99 L971.57,920.31 Q971.80,922.00 973.05,920.57 L976.25,916.93 Q977.50,915.50 979.47,915.41 L984.49,915.19 Q986.46,915.10 985.22,913.41 L982.07,909.09 Q980.84,907.40 982.82,906.28 L987.87,903.42 Q989.86,902.30 988.60,900.58 L985.39,896.22 Q984.13,894.50 986.14,893.40 L991.25,890.60 Q993.26,889.50 991.97,887.76 L988.70,883.34 Q987.42,881.60 989.45,880.52 L994.63,877.78 Q996.66,876.70 995.35,874.94 L992.02,870.46 Q990.71,868.70 992.77,867.64 L998.01,864.96 Q1000.06,863.90 998.73,862.12 L995.33,857.58 Q994.00,855.80 996.08,854.77 L1001.38,852.13 Q1003.47,851.10 1002.11,849.30 L998.65,844.70 Q997.29,842.90 999.40,841.89 L1004.76,839.31 Q1006.87,838.30 1005.48,836.47 L1001.96,831.83 Q1000.58,830.00 1002.71,829.01 L1008.14,826.49 Q1010.27,825.50 1008.86,823.65 L1005.28,818.95 Q1003.87,817.10 1006.03,816.13 L1011.52,813.67 Q1013.67,812.70 1012.24,810.83 L1008.59,806.07 Q1007.16,804.20 1009.34,803.25 L1014.89,800.85 Q1017.07,799.90 1015.62,798.01 L1011.91,793.19 Q1010.45,791.30 1012.49,789.43 L1019.70,782.80 L1020.2,766.7 L931.2,766.7 Z" fill="#fff"/>
<path d="M931.20,782.30 L936.30,784.64 Q937.73,785.30 936.05,787.15 L931.76,791.85 Q930.07,793.70 932.48,794.69 L938.62,797.21 Q941.03,798.20 939.37,800.05 L935.13,804.75 Q933.46,806.60 935.85,807.59 L941.94,810.11 Q944.33,811.10 942.69,812.95 L938.50,817.65 Q936.85,819.50 939.22,820.49 L945.26,823.01 Q947.63,824.00 946.01,825.85 L941.87,830.55 Q940.24,832.40 942.59,833.39 L948.58,835.91 Q950.93,836.90 949.33,838.75 L945.24,843.45 Q943.63,845.30 945.96,846.29 L951.90,848.81 Q954.23,849.80 952.65,851.65 L948.61,856.35 Q947.02,858.20 949.34,859.19 L955.22,861.71 Q957.53,862.70 955.97,864.55 L951.98,869.25 Q950.41,871.10 952.71,872.09 L958.54,874.61 Q960.83,875.60 959.29,877.45 L955.35,882.15 Q953.81,884.00 956.08,884.99 L961.86,887.51 Q964.13,888.50 962.61,890.35 L958.72,895.05 Q957.20,896.90 959.45,897.89 L965.18,900.41 Q967.43,901.40 965.93,903.25 L962.09,907.95 Q960.59,909.80 962.82,910.79 L968.50,913.31 Q970.73,914.30 970.97,915.99 L971.57,920.31 Q971.80,922.00 973.05,920.57 L976.25,916.93 Q977.50,915.50 979.47,915.41 L984.49,915.19 Q986.46,915.10 985.22,913.41 L982.07,909.09 Q980.84,907.40 982.82,906.28 L987.87,903.42 Q989.86,902.30 988.60,900.58 L985.39,896.22 Q984.13,894.50 986.14,893.40 L991.25,890.60 Q993.26,889.50 991.97,887.76 L988.70,883.34 Q987.42,881.60 989.45,880.52 L994.63,877.78 Q996.66,876.70 995.35,874.94 L992.02,870.46 Q990.71,868.70 992.77,867.64 L998.01,864.96 Q1000.06,863.90 998.73,862.12 L995.33,857.58 Q994.00,855.80 996.08,854.77 L1001.38,852.13 Q1003.47,851.10 1002.11,849.30 L998.65,844.70 Q997.29,842.90 999.40,841.89 L1004.76,839.31 Q1006.87,838.30 1005.48,836.47 L1001.96,831.83 Q1000.58,830.00 1002.71,829.01 L1008.14,826.49 Q1010.27,825.50 1008.86,823.65 L1005.28,818.95 Q1003.87,817.10 1006.03,816.13 L1011.52,813.67 Q1013.67,812.70 1012.24,810.83 L1008.59,806.07 Q1007.16,804.20 1009.34,803.25 L1014.89,800.85 Q1017.07,799.90 1015.62,798.01 L1011.91,793.19 Q1010.45,791.30 1012.49,789.43 L1019.70,782.80" fill="none" stroke="#111" stroke-width="1.65" stroke-linejoin="round" stroke-linecap="round"/>
<rect x="6" y="6.0" width="1187.40" height="2148.20" fill="none" stroke="#000" stroke-width="1.6"/>
<line x1="6.00" y1="51.00" x2="1193.40" y2="51.00" stroke="#000" stroke-width="1.6"/>
<line x1="47.80" y1="6.00" x2="47.80" y2="2154.20" stroke="#000" stroke-width="1.6"/>
<line x1="95.40" y1="6.00" x2="95.40" y2="2154.20" stroke="#000" stroke-width="1.6"/>
<line x1="175.80" y1="6.00" x2="175.80" y2="2154.20" stroke="#000" stroke-width="1.6"/>
<line x1="276.80" y1="6.00" x2="276.80" y2="2154.20" stroke="#000" stroke-width="1.6"/>
<line x1="365.80" y1="6.00" x2="365.80" y2="2154.20" stroke="#000" stroke-width="1.6"/>
<line x1="454.80" y1="6.00" x2="454.80" y2="2154.20" stroke="#000" stroke-width="1.6"/>
<line x1="544.60" y1="6.00" x2="544.60" y2="2154.20" stroke="#000" stroke-width="1.6"/>
<line x1="752.80" y1="6.00" x2="752.80" y2="2154.20" stroke="#000" stroke-width="1.6"/>
<line x1="842.00" y1="6.00" x2="842.00" y2="2154.20" stroke="#000" stroke-width="1.6"/>
<line x1="1050.60" y1="6.00" x2="1050.60" y2="2154.20" stroke="#000" stroke-width="1.6"/>
<line x1="633.50" y1="51.00" x2="633.50" y2="2154.20" stroke="#000" stroke-width="1.6"/>
<line x1="723.00" y1="51.00" x2="723.00" y2="2154.20" stroke="#000" stroke-width="1.6"/>
<line x1="931.20" y1="51.00" x2="931.20" y2="2154.20" stroke="#000" stroke-width="1.6"/>
<line x1="1020.20" y1="51.00" x2="1020.20" y2="2154.20" stroke="#000" stroke-width="1.6"/>
<line x1="47.80" y1="91.40" x2="95.40" y2="91.40" stroke="#000" stroke-width="1.6"/>
<line x1="47.80" y1="410.50" x2="95.40" y2="410.50" stroke="#000" stroke-width="1.6"/>
<line x1="47.80" y1="1082.00" x2="95.40" y2="1082.00" stroke="#000" stroke-width="1.6"/>
<line x1="95.40" y1="91.40" x2="175.80" y2="91.40" stroke="#000" stroke-width="1.6"/>
<line x1="95.40" y1="134.30" x2="175.80" y2="134.30" stroke="#000" stroke-width="1.6"/>
<line x1="95.40" y1="410.50" x2="175.80" y2="410.50" stroke="#000" stroke-width="1.6"/>
<line x1="95.40" y1="580.00" x2="175.80" y2="580.00" stroke="#000" stroke-width="1.6"/>
<line x1="95.40" y1="925.50" x2="175.80" y2="925.50" stroke="#000" stroke-width="1.6"/>
<line x1="95.40" y1="1082.00" x2="175.80" y2="1082.00" stroke="#000" stroke-width="1.6"/>
<line x1="95.40" y1="1619.50" x2="175.80" y2="1619.50" stroke="#000" stroke-width="1.6"/>
<line x1="175.80" y1="164.25" x2="276.80" y2="164.25" stroke="#000" stroke-width="1.6"/>
<line x1="175.80" y1="232.50" x2="276.80" y2="232.50" stroke="#000" stroke-width="1.6"/>
<line x1="175.80" y1="266.75" x2="276.80" y2="266.75" stroke="#000" stroke-width="1.6"/>
<line x1="175.80" y1="300.75" x2="276.80" y2="300.75" stroke="#000" stroke-width="1.6"/>
<line x1="175.80" y1="370.50" x2="276.80" y2="370.50" stroke="#000" stroke-width="1.6"/>
<line x1="175.80" y1="410.50" x2="276.80" y2="410.50" stroke="#000" stroke-width="1.6"/>
<line x1="175.80" y1="477.00" x2="276.80" y2="477.00" stroke="#000" stroke-width="1.6"/>
<line x1="175.80" y1="580.00" x2="276.80" y2="580.00" stroke="#000" stroke-width="1.6"/>
<line x1="175.80" y1="640.00" x2="276.80" y2="640.00" stroke="#000" stroke-width="1.6"/>
<line x1="175.80" y1="692.00" x2="276.80" y2="692.00" stroke="#000" stroke-width="1.6"/>
<line x1="175.80" y1="801.75" x2="276.80" y2="801.75" stroke="#000" stroke-width="1.6"/>
<line x1="175.80" y1="925.50" x2="276.80" y2="925.50" stroke="#000" stroke-width="1.6"/>
<line x1="175.80" y1="976.00" x2="276.80" y2="976.00" stroke="#000" stroke-width="1.6"/>
<line x1="175.80" y1="1013.75" x2="276.80" y2="1013.75" stroke="#000" stroke-width="1.6"/>
<line x1="175.80" y1="1082.00" x2="276.80" y2="1082.00" stroke="#000" stroke-width="1.6"/>
<line x1="175.80" y1="1177.50" x2="276.80" y2="1177.50" stroke="#000" stroke-width="1.6"/>
<line x1="175.80" y1="1357.00" x2="276.80" y2="1357.00" stroke="#000" stroke-width="1.6"/>
<line x1="175.80" y1="1389.25" x2="276.80" y2="1389.25" stroke="#000" stroke-width="1.6"/>
<line x1="175.80" y1="1447.00" x2="276.80" y2="1447.00" stroke="#000" stroke-width="1.6"/>
<line x1="175.80" y1="1517.25" x2="276.80" y2="1517.25" stroke="#000" stroke-width="1.6"/>
<line x1="175.80" y1="1619.50" x2="276.80" y2="1619.50" stroke="#000" stroke-width="1.6"/>
<line x1="175.80" y1="1817.50" x2="276.80" y2="1817.50" stroke="#000" stroke-width="1.6"/>
<line x1="175.80" y1="1946.75" x2="276.80" y2="1946.75" stroke="#000" stroke-width="1.6"/>
<line x1="175.80" y1="2026.25" x2="276.80" y2="2026.25" stroke="#000" stroke-width="1.6"/>
<line x1="175.80" y1="2121.25" x2="276.80" y2="2121.25" stroke="#000" stroke-width="1.6"/>
<line x1="276.80" y1="141.70" x2="365.80" y2="141.70" stroke="#000" stroke-width="1.6"/>
<line x1="276.80" y1="185.00" x2="365.80" y2="185.00" stroke="#000" stroke-width="1.6"/>
<line x1="276.80" y1="477.00" x2="365.80" y2="477.00" stroke="#000" stroke-width="1.6"/>
<line x1="276.80" y1="751.75" x2="365.80" y2="751.75" stroke="#000" stroke-width="1.6"/>
<line x1="276.80" y1="1091.25" x2="365.80" y2="1091.25" stroke="#000" stroke-width="1.6"/>
<line x1="276.80" y1="1357.00" x2="365.80" y2="1357.00" stroke="#000" stroke-width="1.6"/>
<line x1="276.80" y1="1517.20" x2="365.80" y2="1517.20" stroke="#000" stroke-width="1.6"/>
<line x1="276.80" y1="1619.50" x2="365.80" y2="1619.50" stroke="#000" stroke-width="1.6"/>
<line x1="276.80" y1="1946.20" x2="365.80" y2="1946.20" stroke="#000" stroke-width="1.6"/>
<line x1="454.80" y1="477.50" x2="752.80" y2="477.50" stroke="#000" stroke-width="1.6"/>
<line x1="454.80" y1="496.50" x2="752.80" y2="496.50" stroke="#000" stroke-width="1.6"/>
<line x1="454.80" y1="753.00" x2="752.80" y2="753.00" stroke="#000" stroke-width="1.6"/>
<line x1="454.80" y1="767.00" x2="752.80" y2="767.00" stroke="#000" stroke-width="1.6"/>
<line x1="454.80" y1="1091.00" x2="752.80" y2="1091.00" stroke="#000" stroke-width="1.6"/>
<line x1="454.80" y1="1517.10" x2="752.80" y2="1517.10" stroke="#000" stroke-width="1.6"/>
<line x1="544.60" y1="1738.20" x2="752.80" y2="1738.20" stroke="#000" stroke-width="1.6"/>
<line x1="454.80" y1="911.30" x2="723.00" y2="911.30" stroke="#000" stroke-width="1.6"/>
<line x1="454.80" y1="925.30" x2="723.00" y2="925.30" stroke="#000" stroke-width="1.6"/>
<line x1="454.80" y1="2120.60" x2="544.60" y2="2120.60" stroke="#000" stroke-width="1.6"/>
<line x1="544.60" y1="266.40" x2="723.00" y2="266.40" stroke="#000" stroke-width="1.6"/>
<line x1="544.60" y1="1229.40" x2="723.00" y2="1229.40" stroke="#000" stroke-width="1.6"/>
<line x1="752.80" y1="477.30" x2="1050.60" y2="477.30" stroke="#000" stroke-width="1.6"/>
<line x1="752.80" y1="497.30" x2="1050.60" y2="497.30" stroke="#000" stroke-width="1.6"/>
<line x1="752.80" y1="752.80" x2="1050.60" y2="752.80" stroke="#000" stroke-width="1.6"/>
<line x1="752.80" y1="766.70" x2="1050.60" y2="766.70" stroke="#000" stroke-width="1.6"/>
<line x1="752.80" y1="1091.50" x2="1050.60" y2="1091.50" stroke="#000" stroke-width="1.6"/>
<line x1="752.80" y1="1110.00" x2="1050.60" y2="1110.00" stroke="#000" stroke-width="1.6"/>
<line x1="752.80" y1="1517.30" x2="1050.60" y2="1517.30" stroke="#000" stroke-width="1.6"/>
<line x1="752.80" y1="1357.30" x2="931.20" y2="1357.30" stroke="#000" stroke-width="1.6"/>
<line x1="752.80" y1="1738.70" x2="842.00" y2="1738.70" stroke="#000" stroke-width="1.6"/>
<line x1="842.00" y1="1277.80" x2="931.20" y2="1277.80" stroke="#000" stroke-width="1.6"/>
<line x1="842.00" y1="1474.70" x2="931.20" y2="1474.70" stroke="#000" stroke-width="1.6"/>
<line x1="842.00" y1="2089.90" x2="1050.60" y2="2089.90" stroke="#000" stroke-width="1.6"/>
<line x1="366.60" y1="142.00" x2="454.00" y2="142.00" stroke="#D9DB12" stroke-width="3"/>
<text transform="translate(410.50,137.60) scale(1,1.1)" font-size="13.2" text-anchor="middle" font-weight="bold" font-style="normal" fill="#000" >T4</text>
<line x1="366.60" y1="477.00" x2="454.00" y2="477.00" stroke="#A9C0DB" stroke-width="3"/>
<text transform="translate(410.50,472.60) scale(1,1.1)" font-size="13.2" text-anchor="middle" font-weight="bold" font-style="normal" fill="#000" >T3</text>
<line x1="366.60" y1="751.70" x2="454.00" y2="751.70" stroke="#121A7E" stroke-width="3"/>
<text transform="translate(410.50,747.30) scale(1,1.1)" font-size="13.2" text-anchor="middle" font-weight="bold" font-style="normal" fill="#000" >T2</text>
<line x1="366.60" y1="1091.30" x2="454.00" y2="1091.30" stroke="#FF8200" stroke-width="3"/>
<text transform="translate(410.50,1086.90) scale(1,1.1)" font-size="13.2" text-anchor="middle" font-weight="bold" font-style="normal" fill="#000" >T1</text>
<line x1="366.60" y1="1357.00" x2="454.00" y2="1357.00" stroke="#A531EE" stroke-width="3"/>
<text transform="translate(410.50,1352.60) scale(1,1.1)" font-size="13.2" text-anchor="middle" font-weight="bold" font-style="normal" fill="#000" >LC2</text>
<line x1="366.60" y1="1472.50" x2="454.00" y2="1472.50" stroke="#FFEF00" stroke-width="3"/>
<text transform="translate(410.50,1468.10) scale(1,1.1)" font-size="13.2" text-anchor="middle" font-weight="bold" font-style="normal" fill="#000" >LC1.1</text>
<line x1="366.60" y1="1517.20" x2="454.00" y2="1517.20" stroke="#FFC50F" stroke-width="3"/>
<text transform="translate(410.50,1512.80) scale(1,1.1)" font-size="13.2" text-anchor="middle" font-weight="bold" font-style="normal" fill="#000" >LC1</text>
<line x1="366.60" y1="1946.20" x2="454.00" y2="1946.20" stroke="#1FA6A6" stroke-width="3"/>
<text transform="translate(410.50,1941.80) scale(1,1.1)" font-size="13.2" text-anchor="middle" font-weight="bold" font-style="normal" fill="#000" >EC2</text>
<line x1="37.80" y1="128.70" x2="47.80" y2="128.70" stroke="#000" stroke-width="1.3"/>
<text transform="translate(33.4,133.70) scale(0.83,1.08)" font-size="13.4" text-anchor="end" fill="#111">5</text>
<line x1="37.80" y1="206.80" x2="47.80" y2="206.80" stroke="#000" stroke-width="1.3"/>
<text transform="translate(33.4,211.80) scale(0.83,1.08)" font-size="13.4" text-anchor="end" fill="#111">10</text>
<line x1="37.80" y1="284.90" x2="47.80" y2="284.90" stroke="#000" stroke-width="1.3"/>
<text transform="translate(33.4,289.90) scale(0.83,1.08)" font-size="13.4" text-anchor="end" fill="#111">15</text>
<line x1="37.80" y1="363.00" x2="47.80" y2="363.00" stroke="#000" stroke-width="1.3"/>
<text transform="translate(33.4,368.00) scale(0.83,1.08)" font-size="13.4" text-anchor="end" fill="#111">20</text>
<line x1="37.80" y1="441.10" x2="47.80" y2="441.10" stroke="#000" stroke-width="1.3"/>
<text transform="translate(33.4,446.10) scale(0.83,1.08)" font-size="13.4" text-anchor="end" fill="#111">25</text>
<line x1="37.80" y1="519.20" x2="47.80" y2="519.20" stroke="#000" stroke-width="1.3"/>
<text transform="translate(33.4,524.20) scale(0.83,1.08)" font-size="13.4" text-anchor="end" fill="#111">30</text>
<line x1="37.80" y1="597.30" x2="47.80" y2="597.30" stroke="#000" stroke-width="1.3"/>
<text transform="translate(33.4,602.30) scale(0.83,1.08)" font-size="13.4" text-anchor="end" fill="#111">35</text>
<line x1="37.80" y1="675.40" x2="47.80" y2="675.40" stroke="#000" stroke-width="1.3"/>
<text transform="translate(33.4,680.40) scale(0.83,1.08)" font-size="13.4" text-anchor="end" fill="#111">40</text>
<line x1="37.80" y1="753.50" x2="47.80" y2="753.50" stroke="#000" stroke-width="1.3"/>
<text transform="translate(33.4,758.50) scale(0.83,1.08)" font-size="13.4" text-anchor="end" fill="#111">45</text>
<line x1="37.80" y1="831.60" x2="47.80" y2="831.60" stroke="#000" stroke-width="1.3"/>
<text transform="translate(33.4,836.60) scale(0.83,1.08)" font-size="13.4" text-anchor="end" fill="#111">50</text>
<line x1="37.80" y1="909.70" x2="47.80" y2="909.70" stroke="#000" stroke-width="1.3"/>
<text transform="translate(33.4,914.70) scale(0.83,1.08)" font-size="13.4" text-anchor="end" fill="#111">55</text>
<line x1="37.80" y1="987.80" x2="47.80" y2="987.80" stroke="#000" stroke-width="1.3"/>
<text transform="translate(33.4,992.80) scale(0.83,1.08)" font-size="13.4" text-anchor="end" fill="#111">60</text>
<line x1="37.80" y1="1065.90" x2="47.80" y2="1065.90" stroke="#000" stroke-width="1.3"/>
<text transform="translate(33.4,1070.90) scale(0.83,1.08)" font-size="13.4" text-anchor="end" fill="#111">65</text>
<line x1="37.80" y1="1144.00" x2="47.80" y2="1144.00" stroke="#000" stroke-width="1.3"/>
<text transform="translate(33.4,1149.00) scale(0.83,1.08)" font-size="13.4" text-anchor="end" fill="#111">70</text>
<line x1="37.80" y1="1222.10" x2="47.80" y2="1222.10" stroke="#000" stroke-width="1.3"/>
<text transform="translate(33.4,1227.10) scale(0.83,1.08)" font-size="13.4" text-anchor="end" fill="#111">75</text>
<line x1="37.80" y1="1300.20" x2="47.80" y2="1300.20" stroke="#000" stroke-width="1.3"/>
<text transform="translate(33.4,1305.20) scale(0.83,1.08)" font-size="13.4" text-anchor="end" fill="#111">80</text>
<line x1="37.80" y1="1378.30" x2="47.80" y2="1378.30" stroke="#000" stroke-width="1.3"/>
<text transform="translate(33.4,1383.30) scale(0.83,1.08)" font-size="13.4" text-anchor="end" fill="#111">85</text>
<line x1="37.80" y1="1456.40" x2="47.80" y2="1456.40" stroke="#000" stroke-width="1.3"/>
<text transform="translate(33.4,1461.40) scale(0.83,1.08)" font-size="13.4" text-anchor="end" fill="#111">90</text>
<line x1="37.80" y1="1534.50" x2="47.80" y2="1534.50" stroke="#000" stroke-width="1.3"/>
<text transform="translate(33.4,1539.50) scale(0.83,1.08)" font-size="13.4" text-anchor="end" fill="#111">95</text>
<line x1="37.80" y1="1612.60" x2="47.80" y2="1612.60" stroke="#000" stroke-width="1.3"/>
<text transform="translate(33.4,1617.60) scale(0.83,1.08)" font-size="13.4" text-anchor="end" fill="#111">100</text>
<line x1="37.80" y1="1690.70" x2="47.80" y2="1690.70" stroke="#000" stroke-width="1.3"/>
<text transform="translate(33.4,1695.70) scale(0.83,1.08)" font-size="13.4" text-anchor="end" fill="#111">105</text>
<line x1="37.80" y1="1768.80" x2="47.80" y2="1768.80" stroke="#000" stroke-width="1.3"/>
<text transform="translate(33.4,1773.80) scale(0.83,1.08)" font-size="13.4" text-anchor="end" fill="#111">110</text>
<line x1="37.80" y1="1846.90" x2="47.80" y2="1846.90" stroke="#000" stroke-width="1.3"/>
<text transform="translate(33.4,1851.90) scale(0.83,1.08)" font-size="13.4" text-anchor="end" fill="#111">115</text>
<line x1="37.80" y1="1925.00" x2="47.80" y2="1925.00" stroke="#000" stroke-width="1.3"/>
<text transform="translate(33.4,1930.00) scale(0.83,1.08)" font-size="13.4" text-anchor="end" fill="#111">120</text>
<line x1="37.80" y1="2003.10" x2="47.80" y2="2003.10" stroke="#000" stroke-width="1.3"/>
<text transform="translate(33.4,2008.10) scale(0.83,1.08)" font-size="13.4" text-anchor="end" fill="#111">125</text>
<line x1="37.80" y1="2081.20" x2="47.80" y2="2081.20" stroke="#000" stroke-width="1.3"/>
<text transform="translate(33.4,2086.20) scale(0.83,1.08)" font-size="13.4" text-anchor="end" fill="#111">130</text>
<text transform="translate(26.60,26.11) scale(1,1.1)" font-size="14" text-anchor="middle" font-weight="normal" font-style="normal" fill="#000" >Age</text>
<text transform="translate(26.60,41.11) scale(1,1.1)" font-size="14" text-anchor="middle" font-weight="normal" font-style="normal" fill="#000" >(Ma)</text>
<text transform="translate(71.80,34.67) scale(1,1.1)" font-size="13.9" text-anchor="middle" font-weight="normal" font-style="normal" fill="#000" >Period</text>
<text transform="translate(135.80,34.67) scale(1,1.1)" font-size="13.9" text-anchor="middle" font-weight="normal" font-style="normal" fill="#000" >Epoch</text>
<text transform="translate(226.30,34.67) scale(1,1.1)" font-size="13.9" text-anchor="middle" font-weight="normal" font-style="normal" fill="#000" >Stage</text>
<text transform="translate(321.30,22.20) scale(1,1.1)" font-size="13.7" text-anchor="middle" font-weight="normal" font-style="normal" fill="#000" >Otway Basin</text>
<text transform="translate(321.30,33.80) scale(1,1.1)" font-size="13.7" text-anchor="middle" font-weight="normal" font-style="normal" fill="#000" >super</text>
<text transform="translate(321.30,45.40) scale(1,1.1)" font-size="13.7" text-anchor="middle" font-weight="normal" font-style="normal" fill="#000" >sequences</text>
<text transform="translate(410.30,22.20) scale(1,1.1)" font-size="13.7" text-anchor="middle" font-weight="normal" font-style="normal" fill="#000" >Otway Basin</text>
<text transform="translate(410.30,34.00) scale(1,1.1)" font-size="13.7" text-anchor="middle" font-weight="normal" font-style="normal" fill="#000" >horizons</text>
<text transform="translate(410.30,45.00) scale(1,1.1)" font-size="8.3" text-anchor="middle" font-weight="normal" font-style="normal" fill="#000" >(Krassay et.al, 2004)</text>
<text transform="translate(500.00,26.60) scale(1,1.1)" font-size="15.5" text-anchor="middle" font-weight="normal" font-style="normal" fill="#000" >Basin</text>
<text transform="translate(500.00,42.20) scale(1,1.1)" font-size="15.5" text-anchor="middle" font-weight="normal" font-style="normal" fill="#000" >phases</text>
<text transform="translate(648.50,34.70) scale(1,1.1)" font-size="15.6" text-anchor="middle" font-weight="normal" font-style="normal" fill="#000" >Strahan Sub-basin</text>
<text transform="translate(797.30,26.60) scale(1,1.1)" font-size="15.5" text-anchor="middle" font-weight="normal" font-style="normal" fill="#000" >Basin</text>
<text transform="translate(797.30,42.20) scale(1,1.1)" font-size="15.5" text-anchor="middle" font-weight="normal" font-style="normal" fill="#000" >phases</text>
<text transform="translate(945.50,34.50) scale(1,1.1)" font-size="15.5" text-anchor="middle" font-weight="normal" font-style="normal" fill="#000" >Sandy Cape Sub-basin</text>
<text transform="translate(1121.50,26.40) scale(1,1.1)" font-size="15.7" text-anchor="middle" font-weight="normal" font-style="normal" fill="#000" >Sorell Basin</text>
<text transform="translate(1121.50,42.00) scale(1,1.1)" font-size="15.7" text-anchor="middle" font-weight="normal" font-style="normal" fill="#000" >hydrocarbon wells</text>
<text transform="translate(71.50,73.74) scale(1,1.1)" font-size="6.2" text-anchor="middle" font-weight="bold" font-style="normal" fill="#000" >QUATERNARY</text>
<text transform="translate(71.30,250.20) rotate(-90) translate(0,5.94) scale(1,1.0)" font-size="16.6" text-anchor="middle" font-weight="bold" fill="#000">NEOGENE</text>
<text transform="translate(71.30,745.20) rotate(-90) translate(0,5.94) scale(1,1.0)" font-size="16.6" text-anchor="middle" font-weight="bold" fill="#000">PALEOGENE</text>
<text transform="translate(71.30,1617.70) rotate(-90) translate(0,5.94) scale(1,1.0)" font-size="16.6" text-anchor="middle" font-weight="bold" fill="#000">CRETACEOUS</text>
<text transform="translate(135.70,63.53) scale(1,1.1)" font-size="11.5" text-anchor="middle" font-weight="normal" font-style="normal" fill="#000" >Holocene</text>
<text transform="translate(135.70,84.23) scale(1,1.1)" font-size="13.8" text-anchor="middle" font-weight="normal" font-style="normal" fill="#000" >Pleistocene</text>
<text transform="translate(135.70,118.73) scale(1,1.1)" font-size="13.8" text-anchor="middle" font-weight="normal" font-style="normal" fill="#000" >Pliocene</text>
<text transform="translate(135.70,277.85) scale(1,1.1)" font-size="13.85" text-anchor="middle" font-weight="normal" font-style="normal" fill="#000" >Miocene</text>
<text transform="translate(135.70,500.70) scale(1,1.1)" font-size="13.85" text-anchor="middle" font-weight="normal" font-style="normal" fill="#000" >Oligocene</text>
<text transform="translate(135.70,758.20) scale(1,1.1)" font-size="13.85" text-anchor="middle" font-weight="normal" font-style="normal" fill="#000" >Eocene</text>
<text transform="translate(135.70,1009.20) scale(1,1.1)" font-size="13.85" text-anchor="middle" font-weight="normal" font-style="normal" fill="#000" >Paleocene</text>
<text transform="translate(135.70,1356.20) scale(1,1.1)" font-size="13.85" text-anchor="middle" font-weight="normal" font-style="normal" fill="#000" >Late</text>
<text transform="translate(135.70,1892.30) scale(1,1.1)" font-size="13.85" text-anchor="middle" font-weight="normal" font-style="normal" fill="#000" >Early</text>
<text transform="translate(226.30,64.69) scale(1,1.1)" font-size="11.9" text-anchor="middle" font-weight="normal" font-style="normal" fill="#000" >Tarantian</text>
<text transform="translate(226.30,80.19) scale(1,1.1)" font-size="11.9" text-anchor="middle" font-weight="normal" font-style="normal" fill="#000" >Ionian</text>
<text transform="translate(226.30,95.19) scale(1,1.1)" font-size="11.9" text-anchor="middle" font-weight="normal" font-style="normal" fill="#000" >Calabrian</text>
<text transform="translate(226.30,110.69) scale(1,1.1)" font-size="11.9" text-anchor="middle" font-weight="normal" font-style="normal" fill="#000" >Gelasian</text>
<text transform="translate(226.30,126.19) scale(1,1.1)" font-size="11.9" text-anchor="middle" font-weight="normal" font-style="normal" fill="#000" >Piacenzian</text>
<text transform="translate(226.30,142.19) scale(1,1.1)" font-size="11.9" text-anchor="middle" font-weight="normal" font-style="normal" fill="#000" >Zanclean</text>
<text transform="translate(226.30,159.40) scale(1,1.1)" font-size="13.7" text-anchor="middle" font-weight="normal" font-style="normal" fill="#000" >Messinian</text>
<text transform="translate(226.30,203.83) scale(1,1.1)" font-size="13.85" text-anchor="middle" font-weight="normal" font-style="normal" fill="#000" >Tortonian</text>
<text transform="translate(226.30,255.08) scale(1,1.1)" font-size="13.85" text-anchor="middle" font-weight="normal" font-style="normal" fill="#000" >Serravallian</text>
<text transform="translate(226.30,289.20) scale(1,1.1)" font-size="13.85" text-anchor="middle" font-weight="normal" font-style="normal" fill="#000" >Langhian</text>
<text transform="translate(226.30,341.08) scale(1,1.1)" font-size="13.85" text-anchor="middle" font-weight="normal" font-style="normal" fill="#000" >Burdigalian</text>
<text transform="translate(226.30,395.95) scale(1,1.1)" font-size="13.85" text-anchor="middle" font-weight="normal" font-style="normal" fill="#000" >Aquitanian</text>
<text transform="translate(226.30,449.20) scale(1,1.1)" font-size="13.85" text-anchor="middle" font-weight="normal" font-style="normal" fill="#000" >Chattian</text>
<text transform="translate(226.30,533.95) scale(1,1.1)" font-size="13.85" text-anchor="middle" font-weight="normal" font-style="normal" fill="#000" >Rupelian</text>
<text transform="translate(226.30,615.45) scale(1,1.1)" font-size="13.85" text-anchor="middle" font-weight="normal" font-style="normal" fill="#000" >Priabonian</text>
<text transform="translate(226.30,671.45) scale(1,1.1)" font-size="13.85" text-anchor="middle" font-weight="normal" font-style="normal" fill="#000" >Bartonian</text>
<text transform="translate(226.30,752.33) scale(1,1.1)" font-size="13.85" text-anchor="middle" font-weight="normal" font-style="normal" fill="#000" >Lutetian</text>
<text transform="translate(226.30,869.08) scale(1,1.1)" font-size="13.85" text-anchor="middle" font-weight="normal" font-style="normal" fill="#000" >Ypresian</text>
<text transform="translate(226.30,956.20) scale(1,1.1)" font-size="13.85" text-anchor="middle" font-weight="normal" font-style="normal" fill="#000" >Thanetian</text>
<text transform="translate(226.30,1000.33) scale(1,1.1)" font-size="13.85" text-anchor="middle" font-weight="normal" font-style="normal" fill="#000" >Selandian</text>
<text transform="translate(226.30,1053.33) scale(1,1.1)" font-size="13.85" text-anchor="middle" font-weight="normal" font-style="normal" fill="#000" >Danian</text>
<text transform="translate(226.30,1135.20) scale(1,1.1)" font-size="13.85" text-anchor="middle" font-weight="normal" font-style="normal" fill="#000" >Maastrichtian</text>
<text transform="translate(226.30,1272.70) scale(1,1.1)" font-size="13.85" text-anchor="middle" font-weight="normal" font-style="normal" fill="#000" >Campanian</text>
<text transform="translate(226.30,1378.58) scale(1,1.1)" font-size="13.85" text-anchor="middle" font-weight="normal" font-style="normal" fill="#000" >Santonian</text>
<text transform="translate(226.30,1423.58) scale(1,1.1)" font-size="13.85" text-anchor="middle" font-weight="normal" font-style="normal" fill="#000" >Coniacian</text>
<text transform="translate(226.30,1487.58) scale(1,1.1)" font-size="13.85" text-anchor="middle" font-weight="normal" font-style="normal" fill="#000" >Turonian</text>
<text transform="translate(226.30,1573.83) scale(1,1.1)" font-size="13.85" text-anchor="middle" font-weight="normal" font-style="normal" fill="#000" >Cenomanian</text>
<text transform="translate(226.30,1723.95) scale(1,1.1)" font-size="13.85" text-anchor="middle" font-weight="normal" font-style="normal" fill="#000" >Albian</text>
<text transform="translate(226.30,1887.58) scale(1,1.1)" font-size="13.85" text-anchor="middle" font-weight="normal" font-style="normal" fill="#000" >Aptian</text>
<text transform="translate(226.30,1991.95) scale(1,1.1)" font-size="13.85" text-anchor="middle" font-weight="normal" font-style="normal" fill="#000" >Barremian</text>
<text transform="translate(226.30,2079.20) scale(1,1.1)" font-size="13.85" text-anchor="middle" font-weight="normal" font-style="normal" fill="#000" >Hauterivian</text>
<text transform="translate(226.30,2143.18) scale(1,1.1)" font-size="13.85" text-anchor="middle" font-weight="normal" font-style="normal" fill="#000" >Valanginian</text>
<text transform="translate(321.30,92.90) scale(1,1.1)" font-size="13.85" text-anchor="middle" font-weight="normal" font-style="normal" fill="#000" >Whalers</text>
<text transform="translate(321.30,110.40) scale(1,1.1)" font-size="13.85" text-anchor="middle" font-weight="normal" font-style="normal" fill="#000" >Bluff</text>
<text transform="translate(321.30,337.45) scale(1,1.1)" font-size="13.85" text-anchor="middle" font-weight="normal" font-style="normal" fill="#000" >Heytesbury</text>
<text transform="translate(321.30,620.83) scale(1,1.1)" font-size="13.85" text-anchor="middle" font-weight="normal" font-style="normal" fill="#000" >Nirranda</text>
<text transform="translate(321.30,927.95) scale(1,1.1)" font-size="13.85" text-anchor="middle" font-weight="normal" font-style="normal" fill="#000" >Wangerrip</text>
<text transform="translate(321.30,1230.58) scale(1,1.1)" font-size="13.85" text-anchor="middle" font-weight="normal" font-style="normal" fill="#000" >Sherbrook</text>
<text transform="translate(321.30,1443.55) scale(1,1.1)" font-size="13.85" text-anchor="middle" font-weight="normal" font-style="normal" fill="#000" >Shipwreck</text>
<text transform="translate(321.30,1742.15) scale(1,1.1)" font-size="13.85" text-anchor="middle" font-weight="normal" font-style="normal" fill="#000" >Eumeralla</text>
<text transform="translate(321.30,2046.45) scale(1,1.1)" font-size="13.85" text-anchor="middle" font-weight="normal" font-style="normal" fill="#000" >Crayfish</text>
<text transform="translate(499.60,270.25) scale(1,1.1)" font-size="13.85" text-anchor="middle" font-weight="normal" font-style="normal" fill="#000" >Subsidence</text>
<text transform="translate(499.60,491.77) scale(1,1.1)" font-size="11.6" text-anchor="middle" font-weight="normal" font-style="normal" fill="#000" >Uplift/Erosion</text>
<text transform="translate(499.60,636.05) scale(1,1.1)" font-size="13.85" text-anchor="middle" font-weight="normal" font-style="normal" fill="#000" >Subsidence</text>
<text transform="translate(499.60,765.07) scale(1,1.1)" font-size="11.6" text-anchor="middle" font-weight="normal" font-style="normal" fill="#000" >Uplift/Erosion</text>
<text transform="translate(499.60,843.95) scale(1,1.1)" font-size="13.85" text-anchor="middle" font-weight="normal" font-style="normal" fill="#000" >Subsidence</text>
<text transform="translate(499.60,923.17) scale(1,1.1)" font-size="11.6" text-anchor="middle" font-weight="normal" font-style="normal" fill="#000" >Local inversion</text>
<text transform="translate(499.60,1014.05) scale(1,1.1)" font-size="13.85" text-anchor="middle" font-weight="normal" font-style="normal" fill="#000" >Extension</text>
<text transform="translate(499.60,1310.65) scale(1,1.1)" font-size="13.85" text-anchor="middle" font-weight="normal" font-style="normal" fill="#000" >Extension</text>
<text transform="translate(499.60,1820.45) scale(1,1.1)" font-size="13.85" text-anchor="middle" font-weight="normal" font-style="normal" fill="#000" >Extension</text>
<text transform="translate(677.80,120.25) scale(1,1.1)" font-size="13.85" text-anchor="middle" font-weight="normal" font-style="normal" fill="#000" >Heytesbury</text>
<text transform="translate(677.80,137.85) scale(1,1.1)" font-size="13.85" text-anchor="middle" font-weight="normal" font-style="normal" fill="#000" >Group</text>
<text transform="translate(677.80,155.45) scale(1,1.1)" font-size="13.85" text-anchor="middle" font-weight="normal" font-style="normal" fill="#000" >equivalent</text>
<text transform="translate(677.80,173.05) scale(1,1.1)" font-size="13.85" text-anchor="middle" font-weight="normal" font-style="normal" fill="#000" >(seismic</text>
<text transform="translate(677.80,190.65) scale(1,1.1)" font-size="13.85" text-anchor="middle" font-weight="normal" font-style="normal" fill="#000" >evidence</text>
<text transform="translate(677.80,208.25) scale(1,1.1)" font-size="13.85" text-anchor="middle" font-weight="normal" font-style="normal" fill="#000" >only)</text>
<text transform="translate(677.80,360.05) scale(1,1.1)" font-size="13.85" text-anchor="middle" font-weight="normal" font-style="normal" fill="#000" >Heytesbury</text>
<text transform="translate(677.80,377.65) scale(1,1.1)" font-size="13.85" text-anchor="middle" font-weight="normal" font-style="normal" fill="#000" >Group</text>
<text transform="translate(677.80,395.25) scale(1,1.1)" font-size="13.85" text-anchor="middle" font-weight="normal" font-style="normal" fill="#000" >equivalent</text>
<text transform="translate(677.80,613.05) scale(1,1.1)" font-size="13.85" text-anchor="middle" font-weight="normal" font-style="normal" fill="#000" >Nirranda</text>
<text transform="translate(677.80,630.65) scale(1,1.1)" font-size="13.85" text-anchor="middle" font-weight="normal" font-style="normal" fill="#000" >Group</text>
<text transform="translate(677.80,648.25) scale(1,1.1)" font-size="13.85" text-anchor="middle" font-weight="normal" font-style="normal" fill="#000" >equivalent</text>
<text transform="translate(677.80,827.25) scale(1,1.1)" font-size="13.85" text-anchor="middle" font-weight="normal" font-style="normal" fill="#000" >Wangerrip</text>
<text transform="translate(677.80,844.85) scale(1,1.1)" font-size="13.85" text-anchor="middle" font-weight="normal" font-style="normal" fill="#000" >Group</text>
<text transform="translate(677.80,862.45) scale(1,1.1)" font-size="13.85" text-anchor="middle" font-weight="normal" font-style="normal" fill="#000" >equivalent</text>
<text transform="translate(677.80,996.25) scale(1,1.1)" font-size="13.85" text-anchor="middle" font-weight="normal" font-style="normal" fill="#000" >Wangerrip</text>
<text transform="translate(677.80,1013.85) scale(1,1.1)" font-size="13.85" text-anchor="middle" font-weight="normal" font-style="normal" fill="#000" >Group</text>
<text transform="translate(677.80,1031.45) scale(1,1.1)" font-size="13.85" text-anchor="middle" font-weight="normal" font-style="normal" fill="#000" >equivalent</text>
<text transform="translate(677.80,1148.25) scale(1,1.1)" font-size="13.85" text-anchor="middle" font-weight="normal" font-style="normal" fill="#000" >Sherbrook</text>
<text transform="translate(677.80,1165.85) scale(1,1.1)" font-size="13.85" text-anchor="middle" font-weight="normal" font-style="normal" fill="#000" >Group</text>
<text transform="translate(677.80,1183.45) scale(1,1.1)" font-size="13.85" text-anchor="middle" font-weight="normal" font-style="normal" fill="#000" >equivalent</text>
<text transform="translate(677.80,1334.65) scale(1,1.1)" font-size="13.85" text-anchor="middle" font-weight="normal" font-style="normal" fill="#000" >Sherbrook</text>
<text transform="translate(677.80,1352.25) scale(1,1.1)" font-size="13.85" text-anchor="middle" font-weight="normal" font-style="normal" fill="#000" >Group</text>
<text transform="translate(677.80,1369.85) scale(1,1.1)" font-size="13.85" text-anchor="middle" font-weight="normal" font-style="normal" fill="#000" >equivalent</text>
<text transform="translate(677.80,1387.45) scale(1,1.1)" font-size="13.85" text-anchor="middle" font-weight="normal" font-style="normal" fill="#000" >(seismic</text>
<text transform="translate(677.80,1405.05) scale(1,1.1)" font-size="13.85" text-anchor="middle" font-weight="normal" font-style="normal" fill="#000" >evidence</text>
<text transform="translate(677.80,1422.65) scale(1,1.1)" font-size="13.85" text-anchor="middle" font-weight="normal" font-style="normal" fill="#000" >only)</text>
<text transform="translate(677.80,1598.05) scale(1,1.1)" font-size="13.85" text-anchor="middle" font-weight="normal" font-style="normal" fill="#000" >Otway Group</text>
<text transform="translate(677.80,1615.65) scale(1,1.1)" font-size="13.85" text-anchor="middle" font-weight="normal" font-style="normal" fill="#000" >equivalent</text>
<text transform="translate(677.80,1633.25) scale(1,1.1)" font-size="13.85" text-anchor="middle" font-weight="normal" font-style="normal" fill="#000" >(seismic</text>
<text transform="translate(677.80,1650.85) scale(1,1.1)" font-size="13.85" text-anchor="middle" font-weight="normal" font-style="normal" fill="#000" >evidence</text>
<text transform="translate(677.80,1668.45) scale(1,1.1)" font-size="13.85" text-anchor="middle" font-weight="normal" font-style="normal" fill="#000" >only)</text>
<text transform="translate(737.80,264.50) rotate(-90) translate(0,5.40) scale(1,1.1)" font-size="13.7" text-anchor="middle" font-weight="normal" fill="#000">Heytesbury Group equivalent</text>
<text transform="translate(737.80,626.00) rotate(-90) translate(0,5.40) scale(1,1.1)" font-size="13.7" text-anchor="middle" font-weight="normal" fill="#000">Nirranda Group equivalent</text>
<text transform="translate(737.80,929.00) rotate(-90) translate(0,5.40) scale(1,1.1)" font-size="13.7" text-anchor="middle" font-weight="normal" fill="#000">Wangerrip Group equivalent</text>
<text transform="translate(737.80,1304.00) rotate(-90) translate(0,5.40) scale(1,1.1)" font-size="13.7" text-anchor="middle" font-weight="normal" fill="#000">Sherbrook Group equivalent</text>
<text transform="translate(737.80,1628.00) rotate(-90) translate(0,5.40) scale(1,1.1)" font-size="13.7" text-anchor="middle" font-weight="normal" fill="#000">Otway Group equivalent</text>
<text transform="translate(797.30,269.95) scale(1,1.1)" font-size="13.85" text-anchor="middle" font-weight="normal" font-style="normal" fill="#000" >Subsidence</text>
<text transform="translate(797.30,491.87) scale(1,1.1)" font-size="11.6" text-anchor="middle" font-weight="normal" font-style="normal" fill="#000" >Uplift/Erosion</text>
<text transform="translate(797.30,635.55) scale(1,1.1)" font-size="13.85" text-anchor="middle" font-weight="normal" font-style="normal" fill="#000" >Subsidence</text>
<text transform="translate(797.30,764.57) scale(1,1.1)" font-size="11.6" text-anchor="middle" font-weight="normal" font-style="normal" fill="#000" >Uplift/Erosion</text>
<text transform="translate(797.30,934.25) scale(1,1.1)" font-size="13.85" text-anchor="middle" font-weight="normal" font-style="normal" fill="#000" >Subsidence</text>
<text transform="translate(797.30,1105.57) scale(1,1.1)" font-size="11.6" text-anchor="middle" font-weight="normal" font-style="normal" fill="#000" >Uplift/Erosion</text>
<text transform="translate(797.30,1239.55) scale(1,1.1)" font-size="13.85" text-anchor="middle" font-weight="normal" font-style="normal" fill="#000" >Subsidence</text>
<text transform="translate(797.30,1442.75) scale(1,1.1)" font-size="13.85" text-anchor="middle" font-weight="normal" font-style="normal" fill="#000" >Extension</text>
<text transform="translate(797.30,1632.95) scale(1,1.1)" font-size="13.85" text-anchor="middle" font-weight="normal" font-style="normal" fill="#000" >Extension</text>
<text transform="translate(975.50,225.85) scale(1,1.1)" font-size="13.85" text-anchor="middle" font-weight="normal" font-style="normal" fill="#000" >Heytesbury</text>
<text transform="translate(975.50,243.45) scale(1,1.1)" font-size="13.85" text-anchor="middle" font-weight="normal" font-style="normal" fill="#000" >Group</text>
<text transform="translate(975.50,261.05) scale(1,1.1)" font-size="13.85" text-anchor="middle" font-weight="normal" font-style="normal" fill="#000" >equivalent</text>
<text transform="translate(975.50,278.65) scale(1,1.1)" font-size="13.85" text-anchor="middle" font-weight="normal" font-style="normal" fill="#000" >(seismic</text>
<text transform="translate(975.50,296.25) scale(1,1.1)" font-size="13.85" text-anchor="middle" font-weight="normal" font-style="normal" fill="#000" >evidence</text>
<text transform="translate(975.50,313.85) scale(1,1.1)" font-size="13.85" text-anchor="middle" font-weight="normal" font-style="normal" fill="#000" >only)</text>
<text transform="translate(975.50,587.05) scale(1,1.1)" font-size="13.85" text-anchor="middle" font-weight="normal" font-style="normal" fill="#000" >Nirranda</text>
<text transform="translate(975.50,604.65) scale(1,1.1)" font-size="13.85" text-anchor="middle" font-weight="normal" font-style="normal" fill="#000" >Group</text>
<text transform="translate(975.50,622.25) scale(1,1.1)" font-size="13.85" text-anchor="middle" font-weight="normal" font-style="normal" fill="#000" >equivalent</text>
<text transform="translate(975.50,639.85) scale(1,1.1)" font-size="13.85" text-anchor="middle" font-weight="normal" font-style="normal" fill="#000" >(seismic</text>
<text transform="translate(975.50,657.45) scale(1,1.1)" font-size="13.85" text-anchor="middle" font-weight="normal" font-style="normal" fill="#000" >evidence</text>
<text transform="translate(975.50,675.05) scale(1,1.1)" font-size="13.85" text-anchor="middle" font-weight="normal" font-style="normal" fill="#000" >only)</text>
<text transform="translate(975.50,996.85) scale(1,1.1)" font-size="13.85" text-anchor="middle" font-weight="normal" font-style="normal" fill="#000" >Wangerrip</text>
<text transform="translate(975.50,1014.45) scale(1,1.1)" font-size="13.85" text-anchor="middle" font-weight="normal" font-style="normal" fill="#000" >Group</text>
<text transform="translate(975.50,1032.05) scale(1,1.1)" font-size="13.85" text-anchor="middle" font-weight="normal" font-style="normal" fill="#000" >equivalent</text>
<text transform="translate(975.50,1301.45) scale(1,1.1)" font-size="13.85" text-anchor="middle" font-weight="normal" font-style="normal" fill="#000" >Sherbrook</text>
<text transform="translate(975.50,1319.05) scale(1,1.1)" font-size="13.85" text-anchor="middle" font-weight="normal" font-style="normal" fill="#000" >Group</text>
<text transform="translate(975.50,1336.65) scale(1,1.1)" font-size="13.85" text-anchor="middle" font-weight="normal" font-style="normal" fill="#000" >equivalent</text>
<text transform="translate(975.50,1773.65) scale(1,1.1)" font-size="13.85" text-anchor="middle" font-weight="normal" font-style="normal" fill="#000" >Otway Group</text>
<text transform="translate(975.50,1791.25) scale(1,1.1)" font-size="13.85" text-anchor="middle" font-weight="normal" font-style="normal" fill="#000" >equivalent</text>
<text transform="translate(975.50,1808.85) scale(1,1.1)" font-size="13.85" text-anchor="middle" font-weight="normal" font-style="normal" fill="#000" >(seismic</text>
<text transform="translate(975.50,1826.45) scale(1,1.1)" font-size="13.85" text-anchor="middle" font-weight="normal" font-style="normal" fill="#000" >evidence</text>
<text transform="translate(975.50,1844.05) scale(1,1.1)" font-size="13.85" text-anchor="middle" font-weight="normal" font-style="normal" fill="#000" >only)</text>
<text transform="translate(1035.60,264.50) rotate(-90) translate(0,5.40) scale(1,1.1)" font-size="13.7" text-anchor="middle" font-weight="normal" fill="#000">Heytesbury Group equivalent</text>
<text transform="translate(1035.60,626.00) rotate(-90) translate(0,5.40) scale(1,1.1)" font-size="13.7" text-anchor="middle" font-weight="normal" fill="#000">Nirranda Group equivalent</text>
<text transform="translate(1035.60,929.00) rotate(-90) translate(0,5.40) scale(1,1.1)" font-size="13.7" text-anchor="middle" font-weight="normal" fill="#000">Wangerrip Group equivalent</text>
<text transform="translate(1035.60,1314.50) rotate(-90) translate(0,5.40) scale(1,1.1)" font-size="13.7" text-anchor="middle" font-weight="normal" fill="#000">Sherbrook Group equivalent</text>
<text transform="translate(1035.60,1804.00) rotate(-90) translate(0,5.40) scale(1,1.1)" font-size="13.7" text-anchor="middle" font-weight="normal" fill="#000">Otway Group equivalent</text>
<path d="M1064.9,1177.3 L1064.9,1171.7 A5.6,5.6 0 0 1 1070.5,1177.3 Z" fill="#22CC22"/>
<circle cx="1064.9" cy="1177.3" r="5.6" fill="none" stroke="#FF1A1A" stroke-width="1.5"/>
<line x1="1064.9" y1="1171.7" x2="1064.9" y2="1167.8" stroke="#FF1A1A" stroke-width="1.4"/>
<line x1="1068.8000000000002" y1="1173.2" x2="1071.9" y2="1170.1" stroke="#FF1A1A" stroke-width="1.4"/>
<line x1="1070.5" y1="1177.3" x2="1074.5" y2="1177.3" stroke="#FF1A1A" stroke-width="1.4"/>
<text transform="translate(1080.00,1182.00) scale(1,1.1)" font-size="13.7" text-anchor="start" font-weight="normal" font-style="normal" fill="#000" >Cape Sorell 1</text>
<text transform="translate(1187.00,2148.60) scale(1,1.1)" font-size="10.2" text-anchor="end" font-weight="normal" font-style="normal" fill="#000" >PP-3941-3</text>
<rect x="158" y="2178" width="42" height="30.5" fill="url(#sand)" stroke="#000" stroke-width="1.6"/>
<text transform="translate(212.90,2197.90) scale(1,1.1)" font-size="13.8" text-anchor="start" font-weight="normal" font-style="italic" fill="#000" >Sandstone</text>
<rect x="349.4" y="2178.2" width="42.200000000000045" height="30.0" fill="url(#lime2)" stroke="#000" stroke-width="1.6"/>
<text transform="translate(404.70,2197.90) scale(1,1.1)" font-size="13.8" text-anchor="start" font-weight="normal" font-style="italic" fill="#000" >Limestone</text>
<rect x="540.3" y="2178" width="42.10000000000002" height="30.40000000000009" fill="url(#silt3)" stroke="#000" stroke-width="1.6"/>
<text transform="translate(595.40,2197.90) scale(1,1.1)" font-size="13.8" text-anchor="start" font-weight="normal" font-style="italic" fill="#000" >Siltstone</text>
<rect x="720" y="2178" width="42" height="30.199999999999818" fill="url(#clay)" stroke="#000" stroke-width="1.6"/>
<text transform="translate(775.30,2197.90) scale(1,1.1)" font-size="13.8" text-anchor="start" font-weight="normal" font-style="italic" fill="#000" >Claystone</text>
<path d="M916.2,2192.8 L916.2,2187.2000000000003 A5.6,5.6 0 0 1 921.8000000000001,2192.8 Z" fill="#22CC22"/>
<circle cx="916.2" cy="2192.8" r="5.6" fill="none" stroke="#FF1A1A" stroke-width="1.5"/>
<line x1="916.2" y1="2187.2000000000003" x2="916.2" y2="2183.3" stroke="#FF1A1A" stroke-width="1.4"/>
<line x1="920.1" y1="2188.7000000000003" x2="923.2" y2="2185.6000000000004" stroke="#FF1A1A" stroke-width="1.4"/>
<line x1="921.8000000000001" y1="2192.8" x2="925.8000000000001" y2="2192.8" stroke="#FF1A1A" stroke-width="1.4"/>
<text transform="translate(934.80,2198.20) scale(1,1.1)" font-size="13.8" text-anchor="start" font-weight="normal" font-style="italic" fill="#000" >Oil and gas indication</text></svg></body></html>
